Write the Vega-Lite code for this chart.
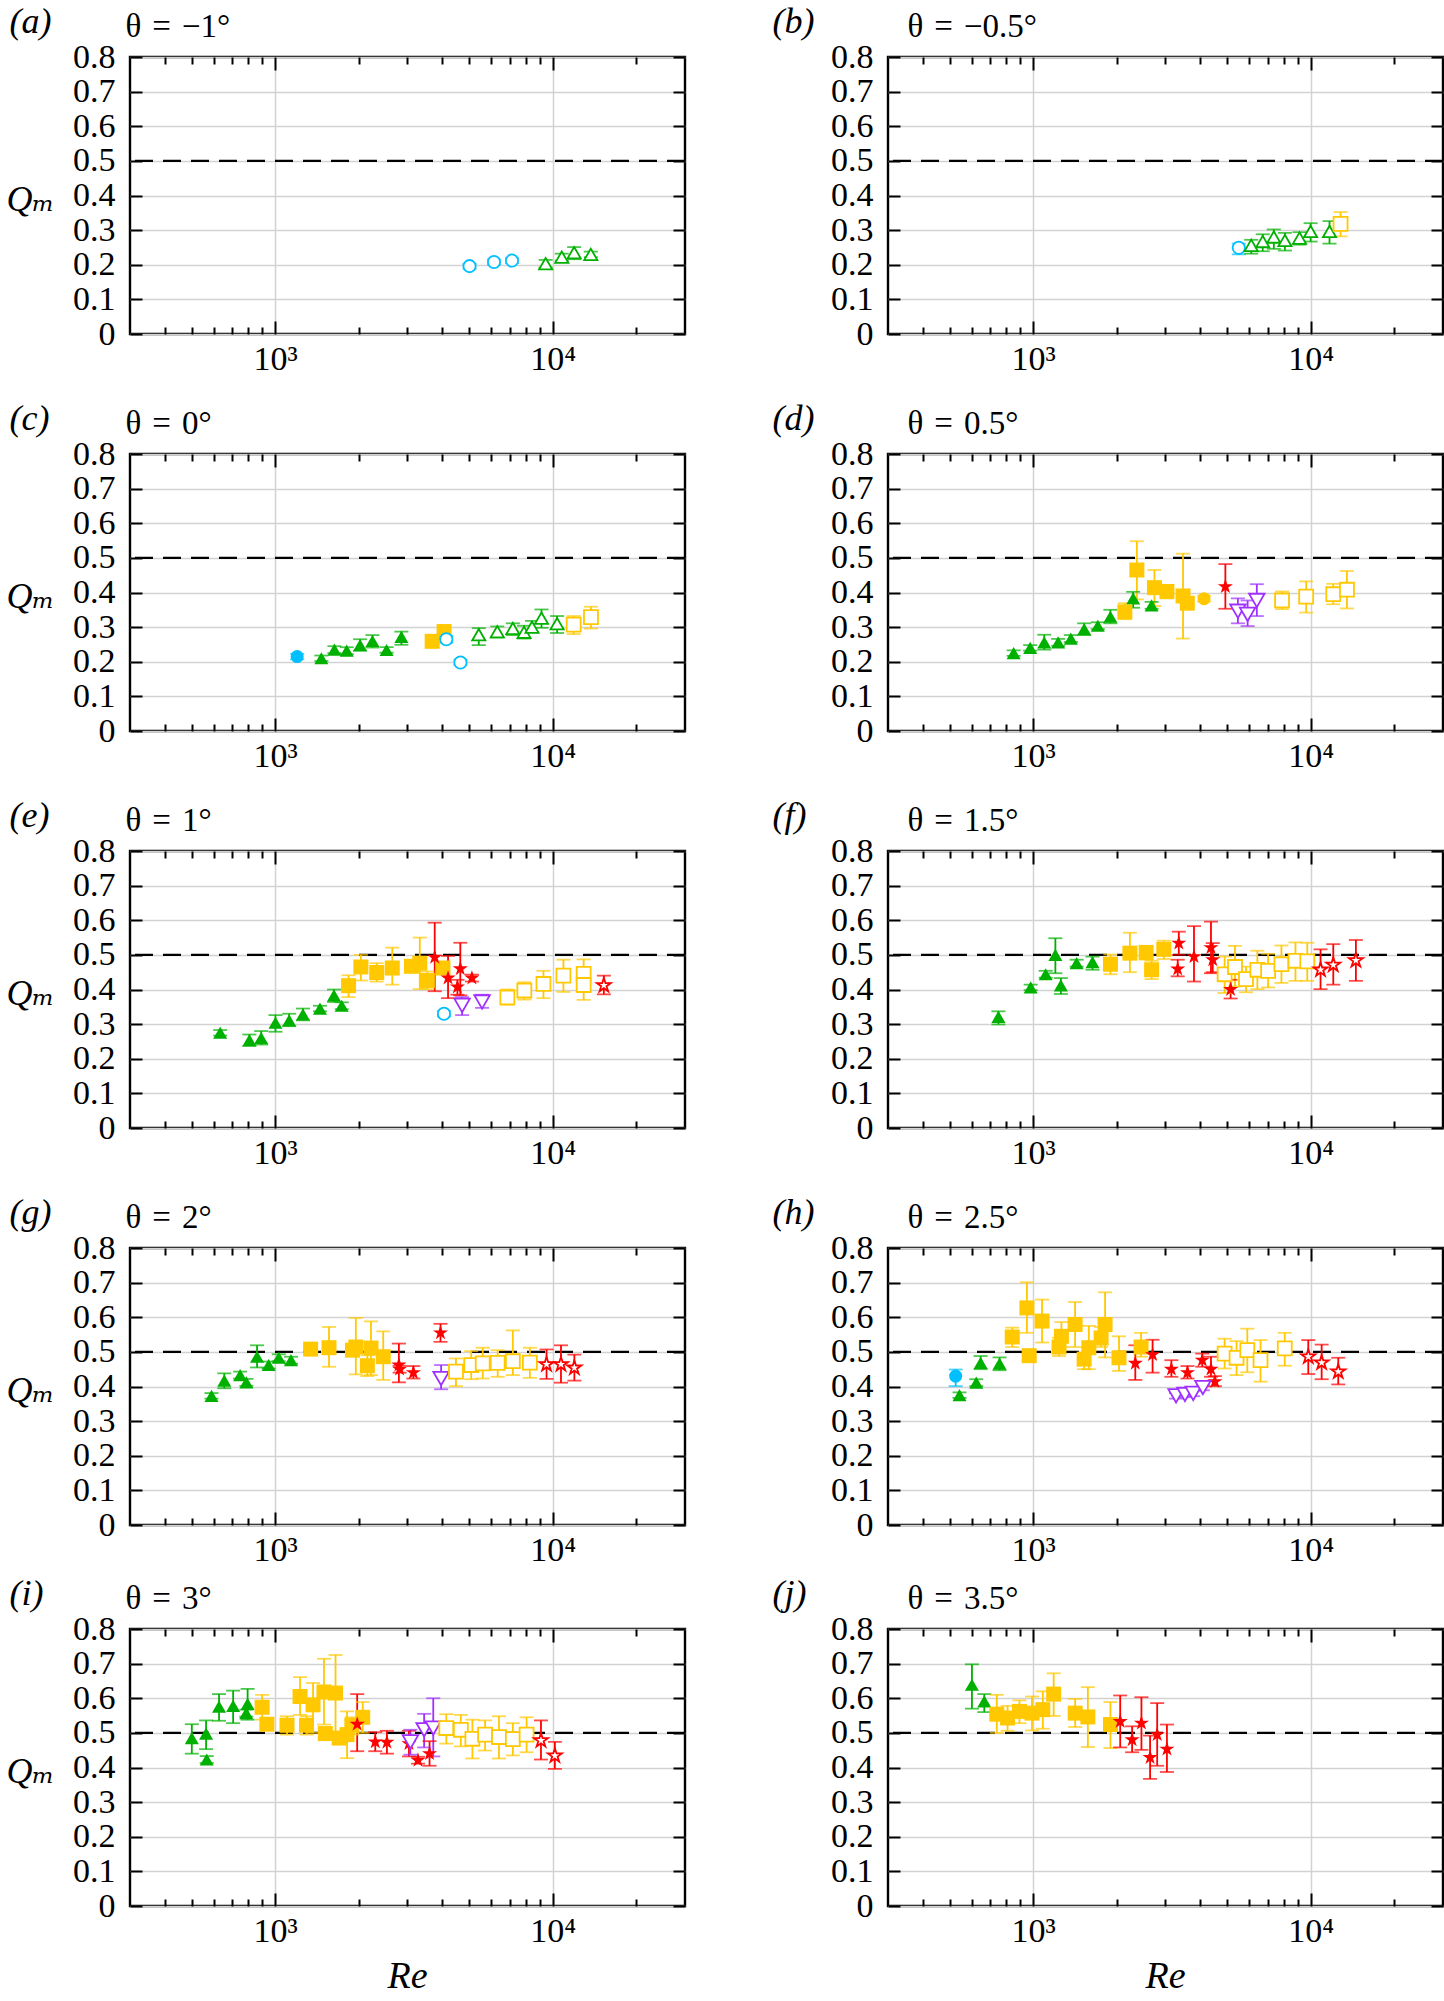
{
"$schema":"https://vega.github.io/schema/vega-lite/v6.json",
"padding":{"left":4,"top":1,"right":0,"bottom":4},
"config":{"view":{"stroke":"black","strokeWidth":2.4},"font":"Liberation Serif, DejaVu Serif, Times New Roman, serif",
"axis":{"labelFont":"Liberation Serif, DejaVu Serif, Times New Roman, serif","labelFontSize":34,"labelColor":"black","titleFont":"Liberation Serif, DejaVu Serif, Times New Roman, serif","titleFontWeight":"normal","titleColor":"black","tickColor":"black","tickWidth":2,"gridColor":"#d2d2d2","gridWidth":1.5,"labelOverlap":false,"labelFlush":false}},
"datasets":{"pts":[
{"p":"a","c":"C","m":"ci","f":0,"re":5020,"q":0.196,"lo":0.189,"hi":0.203},
{"p":"a","c":"C","m":"ci","f":0,"re":6150,"q":0.208,"lo":0.201,"hi":0.215},
{"p":"a","c":"C","m":"ci","f":0,"re":7140,"q":0.212,"lo":0.205,"hi":0.219},
{"p":"a","c":"G","m":"tu","f":0,"re":9440,"q":0.203,"lo":0.192,"hi":0.214},
{"p":"a","c":"G","m":"tu","f":0,"re":10790,"q":0.222,"lo":0.212,"hi":0.232},
{"p":"a","c":"G","m":"tu","f":0,"re":11960,"q":0.235,"lo":0.216,"hi":0.251},
{"p":"a","c":"G","m":"tu","f":0,"re":13730,"q":0.23,"lo":0.222,"hi":0.238},
{"p":"b","c":"C","m":"ci","f":0,"re":5510,"q":0.249,"lo":0.23,"hi":0.261},
{"p":"b","c":"G","m":"tu","f":0,"re":6110,"q":0.256,"lo":0.232,"hi":0.272},
{"p":"b","c":"G","m":"tu","f":0,"re":6720,"q":0.267,"lo":0.239,"hi":0.288},
{"p":"b","c":"G","m":"tu","f":0,"re":7370,"q":0.28,"lo":0.246,"hi":0.302},
{"p":"b","c":"G","m":"tu","f":0,"re":8080,"q":0.27,"lo":0.241,"hi":0.292},
{"p":"b","c":"G","m":"tu","f":0,"re":9120,"q":0.277,"lo":0.258,"hi":0.294},
{"p":"b","c":"G","m":"tu","f":0,"re":10000,"q":0.296,"lo":0.267,"hi":0.32},
{"p":"b","c":"G","m":"tu","f":0,"re":11700,"q":0.296,"lo":0.261,"hi":0.326},
{"p":"b","c":"O","m":"sq","f":0,"re":12820,"q":0.318,"lo":0.282,"hi":0.352},
{"p":"c","c":"C","m":"ci","f":1,"re":1201,"q":0.215,"lo":0.207,"hi":0.223},
{"p":"c","c":"G","m":"tu","f":1,"re":1468,"q":0.21,"lo":0.202,"hi":0.218},
{"p":"c","c":"G","m":"tu","f":1,"re":1636,"q":0.235,"lo":0.225,"hi":0.245},
{"p":"c","c":"G","m":"tu","f":1,"re":1812,"q":0.232,"lo":0.222,"hi":0.242},
{"p":"c","c":"G","m":"tu","f":1,"re":2024,"q":0.248,"lo":0.232,"hi":0.265},
{"p":"c","c":"G","m":"tu","f":1,"re":2243,"q":0.26,"lo":0.241,"hi":0.277},
{"p":"c","c":"G","m":"tu","f":1,"re":2522,"q":0.234,"lo":0.226,"hi":0.242},
{"p":"c","c":"G","m":"tu","f":1,"re":2852,"q":0.272,"lo":0.249,"hi":0.287},
{"p":"c","c":"O","m":"sq","f":1,"re":3681,"q":0.259,"lo":0.251,"hi":0.267},
{"p":"c","c":"O","m":"sq","f":1,"re":4064,"q":0.287,"lo":0.273,"hi":0.306},
{"p":"c","c":"C","m":"ci","f":0,"re":4140,"q":0.265,"lo":0.255,"hi":0.275},
{"p":"c","c":"C","m":"ci","f":0,"re":4655,"q":0.198,"lo":0.19,"hi":0.206},
{"p":"c","c":"G","m":"tu","f":0,"re":5420,"q":0.278,"lo":0.248,"hi":0.297},
{"p":"c","c":"G","m":"tu","f":0,"re":6320,"q":0.287,"lo":0.27,"hi":0.302},
{"p":"c","c":"G","m":"tu","f":0,"re":7190,"q":0.296,"lo":0.277,"hi":0.311},
{"p":"c","c":"G","m":"tu","f":0,"re":7890,"q":0.285,"lo":0.267,"hi":0.304},
{"p":"c","c":"G","m":"tu","f":0,"re":8430,"q":0.3,"lo":0.285,"hi":0.318},
{"p":"c","c":"G","m":"tu","f":0,"re":9120,"q":0.326,"lo":0.298,"hi":0.351},
{"p":"c","c":"G","m":"tu","f":0,"re":10380,"q":0.31,"lo":0.283,"hi":0.332},
{"p":"c","c":"O","m":"sq","f":0,"re":11910,"q":0.307,"lo":0.28,"hi":0.332},
{"p":"c","c":"O","m":"sq","f":0,"re":13750,"q":0.329,"lo":0.296,"hi":0.359},
{"p":"d","c":"G","m":"tu","f":1,"re":851,"q":0.225,"lo":0.217,"hi":0.233},
{"p":"d","c":"G","m":"tu","f":1,"re":976,"q":0.24,"lo":0.232,"hi":0.248},
{"p":"d","c":"G","m":"tu","f":1,"re":1097,"q":0.256,"lo":0.235,"hi":0.278},
{"p":"d","c":"G","m":"tu","f":1,"re":1231,"q":0.256,"lo":0.246,"hi":0.266},
{"p":"d","c":"G","m":"tu","f":1,"re":1368,"q":0.267,"lo":0.257,"hi":0.277},
{"p":"d","c":"G","m":"tu","f":1,"re":1528,"q":0.294,"lo":0.277,"hi":0.311},
{"p":"d","c":"G","m":"tu","f":1,"re":1711,"q":0.304,"lo":0.294,"hi":0.314},
{"p":"d","c":"G","m":"tu","f":1,"re":1899,"q":0.33,"lo":0.311,"hi":0.35},
{"p":"d","c":"G","m":"tu","f":1,"re":2294,"q":0.383,"lo":0.356,"hi":0.402},
{"p":"d","c":"G","m":"tu","f":1,"re":2673,"q":0.363,"lo":0.353,"hi":0.373},
{"p":"d","c":"O","m":"sq","f":1,"re":2141,"q":0.344,"lo":0.323,"hi":0.369},
{"p":"d","c":"O","m":"sq","f":1,"re":2366,"q":0.465,"lo":0.38,"hi":0.548},
{"p":"d","c":"O","m":"sq","f":1,"re":2737,"q":0.414,"lo":0.361,"hi":0.465},
{"p":"d","c":"O","m":"sq","f":1,"re":3036,"q":0.403,"lo":0.383,"hi":0.422},
{"p":"d","c":"O","m":"sq","f":1,"re":3470,"q":0.39,"lo":0.267,"hi":0.512},
{"p":"d","c":"O","m":"sq","f":1,"re":3594,"q":0.369,"lo":0.359,"hi":0.379},
{"p":"d","c":"O","m":"ci","f":1,"re":4130,"q":0.382,"lo":0.374,"hi":0.39},
{"p":"d","c":"R","m":"st","f":1,"re":4930,"q":0.417,"lo":0.353,"hi":0.482},
{"p":"d","c":"P","m":"td","f":0,"re":5470,"q":0.346,"lo":0.311,"hi":0.383},
{"p":"d","c":"P","m":"td","f":0,"re":5930,"q":0.337,"lo":0.303,"hi":0.377},
{"p":"d","c":"P","m":"td","f":0,"re":6400,"q":0.377,"lo":0.332,"hi":0.424},
{"p":"d","c":"O","m":"sq","f":0,"re":7890,"q":0.377,"lo":0.352,"hi":0.403},
{"p":"d","c":"O","m":"sq","f":0,"re":9640,"q":0.388,"lo":0.342,"hi":0.432},
{"p":"d","c":"O","m":"sq","f":0,"re":12070,"q":0.395,"lo":0.366,"hi":0.425},
{"p":"d","c":"O","m":"sq","f":0,"re":13520,"q":0.408,"lo":0.354,"hi":0.462},
{"p":"e","c":"G","m":"tu","f":1,"re":634,"q":0.275,"lo":0.267,"hi":0.283},
{"p":"e","c":"G","m":"tu","f":1,"re":808,"q":0.254,"lo":0.237,"hi":0.27},
{"p":"e","c":"G","m":"tu","f":1,"re":891,"q":0.26,"lo":0.241,"hi":0.28},
{"p":"e","c":"G","m":"tu","f":1,"re":1003,"q":0.304,"lo":0.278,"hi":0.326},
{"p":"e","c":"G","m":"tu","f":1,"re":1124,"q":0.311,"lo":0.294,"hi":0.33},
{"p":"e","c":"G","m":"tu","f":1,"re":1260,"q":0.328,"lo":0.311,"hi":0.345},
{"p":"e","c":"G","m":"tu","f":1,"re":1451,"q":0.345,"lo":0.337,"hi":0.353},
{"p":"e","c":"G","m":"tu","f":1,"re":1630,"q":0.383,"lo":0.364,"hi":0.4},
{"p":"e","c":"G","m":"tu","f":1,"re":1738,"q":0.353,"lo":0.343,"hi":0.363},
{"p":"e","c":"O","m":"sq","f":1,"re":1840,"q":0.411,"lo":0.378,"hi":0.441},
{"p":"e","c":"O","m":"sq","f":1,"re":2038,"q":0.465,"lo":0.426,"hi":0.5},
{"p":"e","c":"O","m":"sq","f":1,"re":2324,"q":0.449,"lo":0.423,"hi":0.476},
{"p":"e","c":"O","m":"sq","f":1,"re":2644,"q":0.462,"lo":0.414,"hi":0.521},
{"p":"e","c":"O","m":"sq","f":1,"re":3100,"q":0.467,"lo":0.455,"hi":0.478},
{"p":"e","c":"O","m":"sq","f":1,"re":3322,"q":0.476,"lo":0.401,"hi":0.55},
{"p":"e","c":"O","m":"sq","f":1,"re":3537,"q":0.426,"lo":0.401,"hi":0.452},
{"p":"e","c":"O","m":"sq","f":1,"re":4027,"q":0.462,"lo":0.452,"hi":0.472},
{"p":"e","c":"R","m":"st","f":1,"re":3760,"q":0.493,"lo":0.395,"hi":0.593},
{"p":"e","c":"R","m":"st","f":1,"re":4200,"q":0.433,"lo":0.375,"hi":0.497},
{"p":"e","c":"R","m":"st","f":1,"re":4540,"q":0.407,"lo":0.385,"hi":0.428},
{"p":"e","c":"R","m":"st","f":1,"re":4650,"q":0.46,"lo":0.383,"hi":0.535},
{"p":"e","c":"R","m":"st","f":1,"re":5120,"q":0.433,"lo":0.423,"hi":0.443},
{"p":"e","c":"C","m":"ci","f":0,"re":4060,"q":0.33,"lo":0.322,"hi":0.338},
{"p":"e","c":"P","m":"td","f":0,"re":4720,"q":0.354,"lo":0.326,"hi":0.378},
{"p":"e","c":"P","m":"td","f":0,"re":5570,"q":0.364,"lo":0.347,"hi":0.385},
{"p":"e","c":"O","m":"sq","f":0,"re":6870,"q":0.377,"lo":0.356,"hi":0.4},
{"p":"e","c":"O","m":"sq","f":0,"re":7910,"q":0.397,"lo":0.371,"hi":0.421},
{"p":"e","c":"O","m":"sq","f":0,"re":9270,"q":0.416,"lo":0.375,"hi":0.454},
{"p":"e","c":"O","m":"sq","f":0,"re":10940,"q":0.44,"lo":0.393,"hi":0.486},
{"p":"e","c":"O","m":"sq","f":0,"re":12940,"q":0.445,"lo":0.41,"hi":0.487},
{"p":"e","c":"O","m":"sq","f":0,"re":12940,"q":0.413,"lo":0.37,"hi":0.45},
{"p":"e","c":"R","m":"st","f":0,"re":15300,"q":0.412,"lo":0.386,"hi":0.44},
{"p":"f","c":"G","m":"tu","f":1,"re":750,"q":0.321,"lo":0.299,"hi":0.337},
{"p":"f","c":"G","m":"tu","f":1,"re":980,"q":0.406,"lo":0.398,"hi":0.414},
{"p":"f","c":"G","m":"tu","f":1,"re":1110,"q":0.444,"lo":0.434,"hi":0.454},
{"p":"f","c":"G","m":"tu","f":1,"re":1203,"q":0.5,"lo":0.447,"hi":0.548},
{"p":"f","c":"G","m":"tu","f":1,"re":1259,"q":0.412,"lo":0.387,"hi":0.433},
{"p":"f","c":"G","m":"tu","f":1,"re":1435,"q":0.476,"lo":0.466,"hi":0.486},
{"p":"f","c":"G","m":"tu","f":1,"re":1637,"q":0.479,"lo":0.457,"hi":0.495},
{"p":"f","c":"O","m":"sq","f":1,"re":1900,"q":0.473,"lo":0.444,"hi":0.501},
{"p":"f","c":"O","m":"sq","f":1,"re":2233,"q":0.505,"lo":0.45,"hi":0.564},
{"p":"f","c":"O","m":"sq","f":1,"re":2555,"q":0.507,"lo":0.486,"hi":0.524},
{"p":"f","c":"O","m":"sq","f":1,"re":2673,"q":0.457,"lo":0.43,"hi":0.483},
{"p":"f","c":"O","m":"sq","f":1,"re":2958,"q":0.516,"lo":0.488,"hi":0.541},
{"p":"f","c":"R","m":"st","f":1,"re":3350,"q":0.534,"lo":0.5,"hi":0.567},
{"p":"f","c":"R","m":"st","f":1,"re":3320,"q":0.459,"lo":0.438,"hi":0.486},
{"p":"f","c":"R","m":"st","f":1,"re":3800,"q":0.495,"lo":0.423,"hi":0.583},
{"p":"f","c":"R","m":"st","f":1,"re":4375,"q":0.521,"lo":0.447,"hi":0.596},
{"p":"f","c":"R","m":"st","f":1,"re":4440,"q":0.486,"lo":0.45,"hi":0.534},
{"p":"f","c":"R","m":"st","f":1,"re":5150,"q":0.4,"lo":0.374,"hi":0.428},
{"p":"f","c":"O","m":"sq","f":0,"re":4900,"q":0.444,"lo":0.39,"hi":0.495},
{"p":"f","c":"O","m":"sq","f":0,"re":5340,"q":0.465,"lo":0.409,"hi":0.526},
{"p":"f","c":"O","m":"sq","f":0,"re":5850,"q":0.43,"lo":0.392,"hi":0.466},
{"p":"f","c":"O","m":"sq","f":0,"re":6430,"q":0.457,"lo":0.401,"hi":0.512},
{"p":"f","c":"O","m":"sq","f":0,"re":7030,"q":0.454,"lo":0.406,"hi":0.503},
{"p":"f","c":"O","m":"sq","f":0,"re":7850,"q":0.473,"lo":0.419,"hi":0.527},
{"p":"f","c":"O","m":"sq","f":0,"re":8820,"q":0.483,"lo":0.425,"hi":0.536},
{"p":"f","c":"O","m":"sq","f":0,"re":9730,"q":0.481,"lo":0.425,"hi":0.535},
{"p":"f","c":"R","m":"st","f":0,"re":10860,"q":0.457,"lo":0.401,"hi":0.516},
{"p":"f","c":"R","m":"st","f":0,"re":12070,"q":0.471,"lo":0.414,"hi":0.531},
{"p":"f","c":"R","m":"st","f":0,"re":14560,"q":0.484,"lo":0.425,"hi":0.543},
{"p":"g","c":"G","m":"tu","f":1,"re":590,"q":0.373,"lo":0.365,"hi":0.381},
{"p":"g","c":"G","m":"tu","f":1,"re":656,"q":0.417,"lo":0.395,"hi":0.438},
{"p":"g","c":"G","m":"tu","f":1,"re":748,"q":0.433,"lo":0.423,"hi":0.443},
{"p":"g","c":"G","m":"tu","f":1,"re":788,"q":0.412,"lo":0.402,"hi":0.422},
{"p":"g","c":"G","m":"tu","f":1,"re":861,"q":0.486,"lo":0.455,"hi":0.519},
{"p":"g","c":"G","m":"tu","f":1,"re":948,"q":0.462,"lo":0.452,"hi":0.472},
{"p":"g","c":"G","m":"tu","f":1,"re":1031,"q":0.483,"lo":0.473,"hi":0.493},
{"p":"g","c":"G","m":"tu","f":1,"re":1141,"q":0.476,"lo":0.466,"hi":0.486},
{"p":"g","c":"O","m":"sq","f":1,"re":1343,"q":0.508,"lo":0.5,"hi":0.516},
{"p":"g","c":"O","m":"sq","f":1,"re":1564,"q":0.512,"lo":0.457,"hi":0.572},
{"p":"g","c":"O","m":"sq","f":1,"re":1954,"q":0.514,"lo":0.435,"hi":0.598},
{"p":"g","c":"O","m":"sq","f":1,"re":1900,"q":0.505,"lo":0.495,"hi":0.515},
{"p":"g","c":"O","m":"sq","f":1,"re":2150,"q":0.46,"lo":0.43,"hi":0.49},
{"p":"g","c":"O","m":"sq","f":1,"re":2216,"q":0.511,"lo":0.433,"hi":0.588},
{"p":"g","c":"O","m":"sq","f":1,"re":2453,"q":0.486,"lo":0.419,"hi":0.559},
{"p":"g","c":"R","m":"st","f":1,"re":2793,"q":0.462,"lo":0.412,"hi":0.524},
{"p":"g","c":"R","m":"st","f":1,"re":2810,"q":0.45,"lo":0.44,"hi":0.46},
{"p":"g","c":"R","m":"st","f":1,"re":3150,"q":0.44,"lo":0.423,"hi":0.459},
{"p":"g","c":"R","m":"st","f":1,"re":3945,"q":0.555,"lo":0.529,"hi":0.581},
{"p":"g","c":"P","m":"td","f":0,"re":3965,"q":0.423,"lo":0.392,"hi":0.462},
{"p":"g","c":"O","m":"sq","f":0,"re":4485,"q":0.443,"lo":0.401,"hi":0.481},
{"p":"g","c":"O","m":"sq","f":0,"re":5090,"q":0.462,"lo":0.421,"hi":0.502},
{"p":"g","c":"O","m":"sq","f":0,"re":5600,"q":0.467,"lo":0.423,"hi":0.512},
{"p":"g","c":"O","m":"sq","f":0,"re":6340,"q":0.468,"lo":0.428,"hi":0.505},
{"p":"g","c":"O","m":"sq","f":0,"re":7190,"q":0.473,"lo":0.433,"hi":0.562},
{"p":"g","c":"O","m":"sq","f":0,"re":8280,"q":0.469,"lo":0.425,"hi":0.512},
{"p":"g","c":"R","m":"st","f":0,"re":9510,"q":0.464,"lo":0.422,"hi":0.507},
{"p":"g","c":"R","m":"st","f":0,"re":10720,"q":0.464,"lo":0.411,"hi":0.519},
{"p":"g","c":"R","m":"st","f":0,"re":11980,"q":0.454,"lo":0.417,"hi":0.492},
{"p":"h","c":"C","m":"ci","f":1,"re":526,"q":0.43,"lo":0.401,"hi":0.449},
{"p":"h","c":"G","m":"tu","f":1,"re":543,"q":0.375,"lo":0.367,"hi":0.383},
{"p":"h","c":"G","m":"tu","f":1,"re":624,"q":0.411,"lo":0.401,"hi":0.421},
{"p":"h","c":"G","m":"tu","f":1,"re":647,"q":0.468,"lo":0.45,"hi":0.488},
{"p":"h","c":"G","m":"tu","f":1,"re":757,"q":0.466,"lo":0.447,"hi":0.484},
{"p":"h","c":"O","m":"sq","f":1,"re":841,"q":0.543,"lo":0.514,"hi":0.57},
{"p":"h","c":"O","m":"sq","f":1,"re":950,"q":0.627,"lo":0.555,"hi":0.701},
{"p":"h","c":"O","m":"sq","f":1,"re":968,"q":0.489,"lo":0.481,"hi":0.497},
{"p":"h","c":"O","m":"sq","f":1,"re":1077,"q":0.589,"lo":0.527,"hi":0.651},
{"p":"h","c":"O","m":"sq","f":1,"re":1240,"q":0.514,"lo":0.488,"hi":0.541},
{"p":"h","c":"O","m":"sq","f":1,"re":1265,"q":0.545,"lo":0.514,"hi":0.586},
{"p":"h","c":"O","m":"sq","f":1,"re":1417,"q":0.579,"lo":0.514,"hi":0.644},
{"p":"h","c":"O","m":"sq","f":1,"re":1527,"q":0.479,"lo":0.45,"hi":0.497},
{"p":"h","c":"O","m":"sq","f":1,"re":1588,"q":0.512,"lo":0.45,"hi":0.575},
{"p":"h","c":"O","m":"sq","f":1,"re":1758,"q":0.54,"lo":0.514,"hi":0.572},
{"p":"h","c":"O","m":"sq","f":1,"re":1817,"q":0.579,"lo":0.484,"hi":0.672},
{"p":"h","c":"O","m":"sq","f":1,"re":2040,"q":0.483,"lo":0.445,"hi":0.545},
{"p":"h","c":"O","m":"sq","f":1,"re":2449,"q":0.514,"lo":0.486,"hi":0.555},
{"p":"h","c":"R","m":"st","f":1,"re":2335,"q":0.467,"lo":0.419,"hi":0.519},
{"p":"h","c":"R","m":"st","f":1,"re":2695,"q":0.492,"lo":0.44,"hi":0.535},
{"p":"h","c":"R","m":"st","f":1,"re":3150,"q":0.45,"lo":0.428,"hi":0.476},
{"p":"h","c":"R","m":"st","f":1,"re":3600,"q":0.44,"lo":0.423,"hi":0.459},
{"p":"h","c":"R","m":"st","f":1,"re":4070,"q":0.476,"lo":0.457,"hi":0.495},
{"p":"h","c":"R","m":"st","f":1,"re":4375,"q":0.45,"lo":0.428,"hi":0.486},
{"p":"h","c":"R","m":"st","f":1,"re":4520,"q":0.414,"lo":0.401,"hi":0.43},
{"p":"h","c":"P","m":"td","f":0,"re":3275,"q":0.373,"lo":0.365,"hi":0.381},
{"p":"h","c":"P","m":"td","f":0,"re":3525,"q":0.377,"lo":0.369,"hi":0.385},
{"p":"h","c":"P","m":"td","f":0,"re":3775,"q":0.38,"lo":0.372,"hi":0.388},
{"p":"h","c":"P","m":"td","f":0,"re":4090,"q":0.397,"lo":0.389,"hi":0.405},
{"p":"h","c":"O","m":"sq","f":0,"re":4900,"q":0.495,"lo":0.452,"hi":0.538},
{"p":"h","c":"O","m":"sq","f":0,"re":5410,"q":0.483,"lo":0.433,"hi":0.531},
{"p":"h","c":"O","m":"sq","f":0,"re":5915,"q":0.505,"lo":0.441,"hi":0.567},
{"p":"h","c":"O","m":"sq","f":0,"re":6600,"q":0.476,"lo":0.414,"hi":0.534},
{"p":"h","c":"O","m":"sq","f":0,"re":8070,"q":0.51,"lo":0.46,"hi":0.555},
{"p":"h","c":"R","m":"st","f":0,"re":9810,"q":0.486,"lo":0.436,"hi":0.534},
{"p":"h","c":"R","m":"st","f":0,"re":10960,"q":0.469,"lo":0.421,"hi":0.521},
{"p":"h","c":"R","m":"st","f":0,"re":12580,"q":0.443,"lo":0.406,"hi":0.483},
{"p":"i","c":"G","m":"tu","f":1,"re":501,"q":0.485,"lo":0.44,"hi":0.525},
{"p":"i","c":"G","m":"tu","f":1,"re":564,"q":0.498,"lo":0.453,"hi":0.536},
{"p":"i","c":"G","m":"tu","f":1,"re":567,"q":0.423,"lo":0.413,"hi":0.433},
{"p":"i","c":"G","m":"tu","f":1,"re":628,"q":0.576,"lo":0.535,"hi":0.612},
{"p":"i","c":"G","m":"tu","f":1,"re":706,"q":0.578,"lo":0.528,"hi":0.622},
{"p":"i","c":"G","m":"tu","f":1,"re":796,"q":0.584,"lo":0.538,"hi":0.627},
{"p":"i","c":"G","m":"tu","f":1,"re":787,"q":0.557,"lo":0.547,"hi":0.567},
{"p":"i","c":"O","m":"sq","f":1,"re":898,"q":0.574,"lo":0.538,"hi":0.61},
{"p":"i","c":"O","m":"sq","f":1,"re":934,"q":0.525,"lo":0.515,"hi":0.535},
{"p":"i","c":"O","m":"sq","f":1,"re":1104,"q":0.522,"lo":0.495,"hi":0.548},
{"p":"i","c":"O","m":"sq","f":1,"re":1230,"q":0.605,"lo":0.552,"hi":0.661},
{"p":"i","c":"O","m":"sq","f":1,"re":1298,"q":0.522,"lo":0.495,"hi":0.548},
{"p":"i","c":"O","m":"sq","f":1,"re":1370,"q":0.581,"lo":0.5,"hi":0.644},
{"p":"i","c":"O","m":"sq","f":1,"re":1500,"q":0.618,"lo":0.524,"hi":0.714},
{"p":"i","c":"O","m":"sq","f":1,"re":1651,"q":0.615,"lo":0.495,"hi":0.725},
{"p":"i","c":"O","m":"sq","f":1,"re":1517,"q":0.498,"lo":0.488,"hi":0.508},
{"p":"i","c":"O","m":"sq","f":1,"re":1702,"q":0.485,"lo":0.471,"hi":0.498},
{"p":"i","c":"O","m":"sq","f":1,"re":1817,"q":0.495,"lo":0.427,"hi":0.562},
{"p":"i","c":"O","m":"sq","f":1,"re":1890,"q":0.522,"lo":0.495,"hi":0.545},
{"p":"i","c":"O","m":"sq","f":1,"re":2069,"q":0.545,"lo":0.5,"hi":0.589},
{"p":"i","c":"R","m":"st","f":1,"re":1976,"q":0.525,"lo":0.447,"hi":0.612},
{"p":"i","c":"R","m":"st","f":1,"re":2296,"q":0.474,"lo":0.447,"hi":0.502},
{"p":"i","c":"R","m":"st","f":1,"re":2529,"q":0.473,"lo":0.44,"hi":0.506},
{"p":"i","c":"R","m":"st","f":1,"re":3036,"q":0.469,"lo":0.432,"hi":0.506},
{"p":"i","c":"R","m":"st","f":1,"re":3272,"q":0.421,"lo":0.411,"hi":0.431},
{"p":"i","c":"R","m":"st","f":1,"re":3602,"q":0.44,"lo":0.405,"hi":0.476},
{"p":"i","c":"P","m":"td","f":0,"re":3074,"q":0.474,"lo":0.437,"hi":0.509},
{"p":"i","c":"P","m":"td","f":0,"re":3444,"q":0.509,"lo":0.458,"hi":0.555},
{"p":"i","c":"P","m":"td","f":0,"re":3715,"q":0.514,"lo":0.432,"hi":0.6},
{"p":"i","c":"O","m":"sq","f":0,"re":4140,"q":0.514,"lo":0.469,"hi":0.554},
{"p":"i","c":"O","m":"sq","f":0,"re":4670,"q":0.509,"lo":0.461,"hi":0.552},
{"p":"i","c":"O","m":"sq","f":0,"re":5140,"q":0.483,"lo":0.426,"hi":0.538},
{"p":"i","c":"O","m":"sq","f":0,"re":5710,"q":0.495,"lo":0.449,"hi":0.536},
{"p":"i","c":"O","m":"sq","f":0,"re":6410,"q":0.488,"lo":0.426,"hi":0.548},
{"p":"i","c":"O","m":"sq","f":0,"re":7190,"q":0.482,"lo":0.435,"hi":0.528},
{"p":"i","c":"O","m":"sq","f":0,"re":8060,"q":0.495,"lo":0.444,"hi":0.545},
{"p":"i","c":"R","m":"st","f":0,"re":9080,"q":0.478,"lo":0.423,"hi":0.536},
{"p":"i","c":"R","m":"st","f":0,"re":10190,"q":0.434,"lo":0.396,"hi":0.474},
{"p":"j","c":"G","m":"tu","f":1,"re":602,"q":0.639,"lo":0.57,"hi":0.698},
{"p":"j","c":"G","m":"tu","f":1,"re":667,"q":0.591,"lo":0.56,"hi":0.612},
{"p":"j","c":"O","m":"sq","f":1,"re":740,"q":0.554,"lo":0.5,"hi":0.61},
{"p":"j","c":"O","m":"sq","f":1,"re":809,"q":0.543,"lo":0.506,"hi":0.578},
{"p":"j","c":"O","m":"sq","f":1,"re":893,"q":0.562,"lo":0.528,"hi":0.594},
{"p":"j","c":"O","m":"sq","f":1,"re":991,"q":0.557,"lo":0.507,"hi":0.605},
{"p":"j","c":"O","m":"sq","f":1,"re":1084,"q":0.567,"lo":0.512,"hi":0.62},
{"p":"j","c":"O","m":"sq","f":1,"re":1186,"q":0.612,"lo":0.549,"hi":0.672},
{"p":"j","c":"O","m":"sq","f":1,"re":1418,"q":0.557,"lo":0.517,"hi":0.598},
{"p":"j","c":"O","m":"sq","f":1,"re":1575,"q":0.546,"lo":0.459,"hi":0.632},
{"p":"j","c":"O","m":"sq","f":1,"re":1900,"q":0.524,"lo":0.456,"hi":0.589},
{"p":"j","c":"R","m":"st","f":1,"re":2060,"q":0.533,"lo":0.458,"hi":0.608},
{"p":"j","c":"R","m":"st","f":1,"re":2274,"q":0.48,"lo":0.444,"hi":0.519},
{"p":"j","c":"R","m":"st","f":1,"re":2457,"q":0.528,"lo":0.451,"hi":0.603},
{"p":"j","c":"R","m":"st","f":1,"re":2640,"q":0.429,"lo":0.367,"hi":0.492},
{"p":"j","c":"R","m":"st","f":1,"re":2800,"q":0.495,"lo":0.405,"hi":0.586},
{"p":"j","c":"R","m":"st","f":1,"re":3036,"q":0.453,"lo":0.387,"hi":0.524}
]},
"spacing":-2,
"vconcat":[
{"spacing":14,"vconcat":[
{"spacing":82,"hconcat":[
{"width":555,"height":277,"resolve":{"axis":{"x":"independent","y":"independent"},"scale":{"size":"independent"}},"layer":[
{"data":{"values":[{"q":0.5}]},"mark":{"type":"rule","color":"black","strokeWidth":2.2,"strokeDash":[18,10]},"encoding":{"y":{"field":"q","type":"quantitative","scale":{"domain":[0,0.8],"nice":false},"axis":null}}},
{"data":{"name":"pts"},"transform":[{"filter":"datum.p=='a'"}],"mark":{"type":"rule","strokeWidth":1.8},"encoding":{
"x":{"field":"re","type":"quantitative","scale":{"type":"log","domain":[300,30000],"nice":false},"axis":{"orient":"bottom","values":[400,500,600,700,800,900,1000,2000,3000,4000,5000,6000,7000,8000,9000,10000,20000],"labelExpr":"datum.value==1000?'10³':datum.value==10000?'10⁴':''","tickSize":{"condition":{"test":"datum.value==1000||datum.value==10000","value":-13},"value":-7},"labelPadding":21,"labelBaseline":"top","grid":true,"gridOpacity":{"condition":{"test":"datum.value==1000||datum.value==10000","value":1},"value":0},"domain":false,"title":null}},
"y":{"field":"lo","type":"quantitative","scale":{"domain":[0,0.8],"nice":false},"axis":{"orient":"left","values":[0,0.1,0.2,0.3,0.4,0.5,0.6,0.7,0.8],"labelExpr":"datum.value==0?'0':format(datum.value,'.1f')","tickSize":-12,"labelPadding":27,"grid":true,"domain":false,"title":"Qₘ","titleFontStyle":"italic","titleFontSize":36,"titleAngle":0,"titleX":-76,"titleY":142,"titleAlign":"right","titleBaseline":"middle"}},
"y2":{"field":"hi"},
"color":{"field":"c","type":"nominal","scale":{"domain":["C","G","O","R","P"],"range":["#00bfff","#00b000","#ffc800","#ff0000","#a030ff"]},"legend":null}}},
{"data":{"name":"pts"},"transform":[{"filter":"datum.p=='a'"}],"mark":{"type":"tick","orient":"horizontal","size":14,"thickness":1.8},"encoding":{
"x":{"field":"re","type":"quantitative","scale":{"type":"log","domain":[300,30000],"nice":false},"axis":{"orient":"top","values":[400,500,600,700,800,900,1000,2000,3000,4000,5000,6000,7000,8000,9000,10000,20000],"labels":false,"tickSize":{"condition":{"test":"datum.value==1000||datum.value==10000","value":-13},"value":-7},"grid":false,"domain":false,"title":"θ\u2004=\u2004−1°","titleFontSize":33,"titleX":-5,"titleY":-21,"titleAlign":"left","titleBaseline":"alphabetic","titleAngle":0}},
"y":{"field":"lo","type":"quantitative","scale":{"domain":[0,0.8],"nice":false},"axis":{"orient":"right","values":[0,0.1,0.2,0.3,0.4,0.5,0.6,0.7,0.8],"labels":false,"tickSize":-12,"grid":false,"domain":false,"title":"(a)","titleFontSize":36,"titleFontStyle":"italic","titleX":-676,"titleY":-25,"titleAlign":"left","titleBaseline":"alphabetic","titleAngle":0}},
"color":{"field":"c","type":"nominal","scale":{"domain":["C","G","O","R","P"],"range":["#00bfff","#00b000","#ffc800","#ff0000","#a030ff"]},"legend":null}}},
{"data":{"name":"pts"},"transform":[{"filter":"datum.p=='a'"}],"mark":{"type":"tick","orient":"horizontal","size":14,"thickness":1.8},"encoding":{
"x":{"field":"re","type":"quantitative","scale":{"type":"log","domain":[300,30000],"nice":false},"axis":null},
"y":{"field":"hi","type":"quantitative","scale":{"domain":[0,0.8],"nice":false},"axis":null},
"color":{"field":"c","type":"nominal","scale":{"domain":["C","G","O","R","P"],"range":["#00bfff","#00b000","#ffc800","#ff0000","#a030ff"]},"legend":null}}},
{"data":{"name":"pts"},"transform":[{"filter":"datum.p=='a' && datum.f==1"}],"mark":{"type":"point","filled":true,"opacity":1},"encoding":{
"x":{"field":"re","type":"quantitative","scale":{"type":"log","domain":[300,30000],"nice":false},"axis":null},
"y":{"field":"q","type":"quantitative","scale":{"domain":[0,0.8],"nice":false},"axis":null},
"color":{"field":"c","type":"nominal","scale":{"domain":["C","G","O","R","P"],"range":["#00bfff","#00b000","#ffc800","#ff0000","#a030ff"]},"legend":null},
"shape":{"field":"m","type":"nominal","scale":{"domain":["ci","tu","sq","st","td"],"range":["circle","triangle-up","square","M0,-1L0.2245,-0.309L0.951,-0.309L0.363,0.118L0.588,0.809L0,0.382L-0.588,0.809L-0.363,0.118L-0.951,-0.309L-0.2245,-0.309Z","triangle-down"]},"legend":null},
"size":{"field":"m","type":"ordinal","scale":{"domain":["ci","tu","sq","st","td"],"range":[170,280,150,1000,220]},"legend":null}}},
{"data":{"name":"pts"},"transform":[{"filter":"datum.p=='a' && datum.f==0"}],"mark":{"type":"point","filled":false,"fill":"white","strokeWidth":1.8,"opacity":1},"encoding":{
"x":{"field":"re","type":"quantitative","scale":{"type":"log","domain":[300,30000],"nice":false},"axis":null},
"y":{"field":"q","type":"quantitative","scale":{"domain":[0,0.8],"nice":false},"axis":null},
"color":{"field":"c","type":"nominal","scale":{"domain":["C","G","O","R","P"],"range":["#00bfff","#00b000","#ffc800","#ff0000","#a030ff"]},"legend":null},
"shape":{"field":"m","type":"nominal","scale":{"domain":["ci","tu","sq","st","td"],"range":["circle","triangle-up","square","M0,-1L0.2245,-0.309L0.951,-0.309L0.363,0.118L0.588,0.809L0,0.382L-0.588,0.809L-0.363,0.118L-0.951,-0.309L-0.2245,-0.309Z","triangle-down"]},"legend":null},
"size":{"field":"m","type":"ordinal","scale":{"domain":["ci","tu","sq","st","td"],"range":[150,240,80,850,210]},"legend":null}}}
]},
{"width":555,"height":277,"resolve":{"axis":{"x":"independent","y":"independent"},"scale":{"size":"independent"}},"layer":[
{"data":{"values":[{"q":0.5}]},"mark":{"type":"rule","color":"black","strokeWidth":2.2,"strokeDash":[18,10]},"encoding":{"y":{"field":"q","type":"quantitative","scale":{"domain":[0,0.8],"nice":false},"axis":null}}},
{"data":{"name":"pts"},"transform":[{"filter":"datum.p=='b'"}],"mark":{"type":"rule","strokeWidth":1.8},"encoding":{
"x":{"field":"re","type":"quantitative","scale":{"type":"log","domain":[300,30000],"nice":false},"axis":{"orient":"bottom","values":[400,500,600,700,800,900,1000,2000,3000,4000,5000,6000,7000,8000,9000,10000,20000],"labelExpr":"datum.value==1000?'10³':datum.value==10000?'10⁴':''","tickSize":{"condition":{"test":"datum.value==1000||datum.value==10000","value":-13},"value":-7},"labelPadding":21,"labelBaseline":"top","grid":true,"gridOpacity":{"condition":{"test":"datum.value==1000||datum.value==10000","value":1},"value":0},"domain":false,"title":null}},
"y":{"field":"lo","type":"quantitative","scale":{"domain":[0,0.8],"nice":false},"axis":{"orient":"left","values":[0,0.1,0.2,0.3,0.4,0.5,0.6,0.7,0.8],"labelExpr":"datum.value==0?'0':format(datum.value,'.1f')","tickSize":-12,"labelPadding":27,"grid":true,"domain":false,"title":null}},
"y2":{"field":"hi"},
"color":{"field":"c","type":"nominal","scale":{"domain":["C","G","O","R","P"],"range":["#00bfff","#00b000","#ffc800","#ff0000","#a030ff"]},"legend":null}}},
{"data":{"name":"pts"},"transform":[{"filter":"datum.p=='b'"}],"mark":{"type":"tick","orient":"horizontal","size":14,"thickness":1.8},"encoding":{
"x":{"field":"re","type":"quantitative","scale":{"type":"log","domain":[300,30000],"nice":false},"axis":{"orient":"top","values":[400,500,600,700,800,900,1000,2000,3000,4000,5000,6000,7000,8000,9000,10000,20000],"labels":false,"tickSize":{"condition":{"test":"datum.value==1000||datum.value==10000","value":-13},"value":-7},"grid":false,"domain":false,"title":"θ\u2004=\u2004−0.5°","titleFontSize":33,"titleX":19,"titleY":-21,"titleAlign":"left","titleBaseline":"alphabetic","titleAngle":0}},
"y":{"field":"lo","type":"quantitative","scale":{"domain":[0,0.8],"nice":false},"axis":{"orient":"right","values":[0,0.1,0.2,0.3,0.4,0.5,0.6,0.7,0.8],"labels":false,"tickSize":-12,"grid":false,"domain":false,"title":"(b)","titleFontSize":36,"titleFontStyle":"italic","titleX":-671,"titleY":-25,"titleAlign":"left","titleBaseline":"alphabetic","titleAngle":0}},
"color":{"field":"c","type":"nominal","scale":{"domain":["C","G","O","R","P"],"range":["#00bfff","#00b000","#ffc800","#ff0000","#a030ff"]},"legend":null}}},
{"data":{"name":"pts"},"transform":[{"filter":"datum.p=='b'"}],"mark":{"type":"tick","orient":"horizontal","size":14,"thickness":1.8},"encoding":{
"x":{"field":"re","type":"quantitative","scale":{"type":"log","domain":[300,30000],"nice":false},"axis":null},
"y":{"field":"hi","type":"quantitative","scale":{"domain":[0,0.8],"nice":false},"axis":null},
"color":{"field":"c","type":"nominal","scale":{"domain":["C","G","O","R","P"],"range":["#00bfff","#00b000","#ffc800","#ff0000","#a030ff"]},"legend":null}}},
{"data":{"name":"pts"},"transform":[{"filter":"datum.p=='b' && datum.f==1"}],"mark":{"type":"point","filled":true,"opacity":1},"encoding":{
"x":{"field":"re","type":"quantitative","scale":{"type":"log","domain":[300,30000],"nice":false},"axis":null},
"y":{"field":"q","type":"quantitative","scale":{"domain":[0,0.8],"nice":false},"axis":null},
"color":{"field":"c","type":"nominal","scale":{"domain":["C","G","O","R","P"],"range":["#00bfff","#00b000","#ffc800","#ff0000","#a030ff"]},"legend":null},
"shape":{"field":"m","type":"nominal","scale":{"domain":["ci","tu","sq","st","td"],"range":["circle","triangle-up","square","M0,-1L0.2245,-0.309L0.951,-0.309L0.363,0.118L0.588,0.809L0,0.382L-0.588,0.809L-0.363,0.118L-0.951,-0.309L-0.2245,-0.309Z","triangle-down"]},"legend":null},
"size":{"field":"m","type":"ordinal","scale":{"domain":["ci","tu","sq","st","td"],"range":[170,280,150,1000,220]},"legend":null}}},
{"data":{"name":"pts"},"transform":[{"filter":"datum.p=='b' && datum.f==0"}],"mark":{"type":"point","filled":false,"fill":"white","strokeWidth":1.8,"opacity":1},"encoding":{
"x":{"field":"re","type":"quantitative","scale":{"type":"log","domain":[300,30000],"nice":false},"axis":null},
"y":{"field":"q","type":"quantitative","scale":{"domain":[0,0.8],"nice":false},"axis":null},
"color":{"field":"c","type":"nominal","scale":{"domain":["C","G","O","R","P"],"range":["#00bfff","#00b000","#ffc800","#ff0000","#a030ff"]},"legend":null},
"shape":{"field":"m","type":"nominal","scale":{"domain":["ci","tu","sq","st","td"],"range":["circle","triangle-up","square","M0,-1L0.2245,-0.309L0.951,-0.309L0.363,0.118L0.588,0.809L0,0.382L-0.588,0.809L-0.363,0.118L-0.951,-0.309L-0.2245,-0.309Z","triangle-down"]},"legend":null},
"size":{"field":"m","type":"ordinal","scale":{"domain":["ci","tu","sq","st","td"],"range":[150,240,80,850,210]},"legend":null}}}
]}
]},
{"spacing":82,"hconcat":[
{"width":555,"height":277,"resolve":{"axis":{"x":"independent","y":"independent"},"scale":{"size":"independent"}},"layer":[
{"data":{"values":[{"q":0.5}]},"mark":{"type":"rule","color":"black","strokeWidth":2.2,"strokeDash":[18,10]},"encoding":{"y":{"field":"q","type":"quantitative","scale":{"domain":[0,0.8],"nice":false},"axis":null}}},
{"data":{"name":"pts"},"transform":[{"filter":"datum.p=='c'"}],"mark":{"type":"rule","strokeWidth":1.8},"encoding":{
"x":{"field":"re","type":"quantitative","scale":{"type":"log","domain":[300,30000],"nice":false},"axis":{"orient":"bottom","values":[400,500,600,700,800,900,1000,2000,3000,4000,5000,6000,7000,8000,9000,10000,20000],"labelExpr":"datum.value==1000?'10³':datum.value==10000?'10⁴':''","tickSize":{"condition":{"test":"datum.value==1000||datum.value==10000","value":-13},"value":-7},"labelPadding":21,"labelBaseline":"top","grid":true,"gridOpacity":{"condition":{"test":"datum.value==1000||datum.value==10000","value":1},"value":0},"domain":false,"title":null}},
"y":{"field":"lo","type":"quantitative","scale":{"domain":[0,0.8],"nice":false},"axis":{"orient":"left","values":[0,0.1,0.2,0.3,0.4,0.5,0.6,0.7,0.8],"labelExpr":"datum.value==0?'0':format(datum.value,'.1f')","tickSize":-12,"labelPadding":27,"grid":true,"domain":false,"title":"Qₘ","titleFontStyle":"italic","titleFontSize":36,"titleAngle":0,"titleX":-76,"titleY":142,"titleAlign":"right","titleBaseline":"middle"}},
"y2":{"field":"hi"},
"color":{"field":"c","type":"nominal","scale":{"domain":["C","G","O","R","P"],"range":["#00bfff","#00b000","#ffc800","#ff0000","#a030ff"]},"legend":null}}},
{"data":{"name":"pts"},"transform":[{"filter":"datum.p=='c'"}],"mark":{"type":"tick","orient":"horizontal","size":14,"thickness":1.8},"encoding":{
"x":{"field":"re","type":"quantitative","scale":{"type":"log","domain":[300,30000],"nice":false},"axis":{"orient":"top","values":[400,500,600,700,800,900,1000,2000,3000,4000,5000,6000,7000,8000,9000,10000,20000],"labels":false,"tickSize":{"condition":{"test":"datum.value==1000||datum.value==10000","value":-13},"value":-7},"grid":false,"domain":false,"title":"θ\u2004=\u20040°","titleFontSize":33,"titleX":-5,"titleY":-21,"titleAlign":"left","titleBaseline":"alphabetic","titleAngle":0}},
"y":{"field":"lo","type":"quantitative","scale":{"domain":[0,0.8],"nice":false},"axis":{"orient":"right","values":[0,0.1,0.2,0.3,0.4,0.5,0.6,0.7,0.8],"labels":false,"tickSize":-12,"grid":false,"domain":false,"title":"(c)","titleFontSize":36,"titleFontStyle":"italic","titleX":-676,"titleY":-25,"titleAlign":"left","titleBaseline":"alphabetic","titleAngle":0}},
"color":{"field":"c","type":"nominal","scale":{"domain":["C","G","O","R","P"],"range":["#00bfff","#00b000","#ffc800","#ff0000","#a030ff"]},"legend":null}}},
{"data":{"name":"pts"},"transform":[{"filter":"datum.p=='c'"}],"mark":{"type":"tick","orient":"horizontal","size":14,"thickness":1.8},"encoding":{
"x":{"field":"re","type":"quantitative","scale":{"type":"log","domain":[300,30000],"nice":false},"axis":null},
"y":{"field":"hi","type":"quantitative","scale":{"domain":[0,0.8],"nice":false},"axis":null},
"color":{"field":"c","type":"nominal","scale":{"domain":["C","G","O","R","P"],"range":["#00bfff","#00b000","#ffc800","#ff0000","#a030ff"]},"legend":null}}},
{"data":{"name":"pts"},"transform":[{"filter":"datum.p=='c' && datum.f==1"}],"mark":{"type":"point","filled":true,"opacity":1},"encoding":{
"x":{"field":"re","type":"quantitative","scale":{"type":"log","domain":[300,30000],"nice":false},"axis":null},
"y":{"field":"q","type":"quantitative","scale":{"domain":[0,0.8],"nice":false},"axis":null},
"color":{"field":"c","type":"nominal","scale":{"domain":["C","G","O","R","P"],"range":["#00bfff","#00b000","#ffc800","#ff0000","#a030ff"]},"legend":null},
"shape":{"field":"m","type":"nominal","scale":{"domain":["ci","tu","sq","st","td"],"range":["circle","triangle-up","square","M0,-1L0.2245,-0.309L0.951,-0.309L0.363,0.118L0.588,0.809L0,0.382L-0.588,0.809L-0.363,0.118L-0.951,-0.309L-0.2245,-0.309Z","triangle-down"]},"legend":null},
"size":{"field":"m","type":"ordinal","scale":{"domain":["ci","tu","sq","st","td"],"range":[170,280,150,1000,220]},"legend":null}}},
{"data":{"name":"pts"},"transform":[{"filter":"datum.p=='c' && datum.f==0"}],"mark":{"type":"point","filled":false,"fill":"white","strokeWidth":1.8,"opacity":1},"encoding":{
"x":{"field":"re","type":"quantitative","scale":{"type":"log","domain":[300,30000],"nice":false},"axis":null},
"y":{"field":"q","type":"quantitative","scale":{"domain":[0,0.8],"nice":false},"axis":null},
"color":{"field":"c","type":"nominal","scale":{"domain":["C","G","O","R","P"],"range":["#00bfff","#00b000","#ffc800","#ff0000","#a030ff"]},"legend":null},
"shape":{"field":"m","type":"nominal","scale":{"domain":["ci","tu","sq","st","td"],"range":["circle","triangle-up","square","M0,-1L0.2245,-0.309L0.951,-0.309L0.363,0.118L0.588,0.809L0,0.382L-0.588,0.809L-0.363,0.118L-0.951,-0.309L-0.2245,-0.309Z","triangle-down"]},"legend":null},
"size":{"field":"m","type":"ordinal","scale":{"domain":["ci","tu","sq","st","td"],"range":[150,240,80,850,210]},"legend":null}}}
]},
{"width":555,"height":277,"resolve":{"axis":{"x":"independent","y":"independent"},"scale":{"size":"independent"}},"layer":[
{"data":{"values":[{"q":0.5}]},"mark":{"type":"rule","color":"black","strokeWidth":2.2,"strokeDash":[18,10]},"encoding":{"y":{"field":"q","type":"quantitative","scale":{"domain":[0,0.8],"nice":false},"axis":null}}},
{"data":{"name":"pts"},"transform":[{"filter":"datum.p=='d'"}],"mark":{"type":"rule","strokeWidth":1.8},"encoding":{
"x":{"field":"re","type":"quantitative","scale":{"type":"log","domain":[300,30000],"nice":false},"axis":{"orient":"bottom","values":[400,500,600,700,800,900,1000,2000,3000,4000,5000,6000,7000,8000,9000,10000,20000],"labelExpr":"datum.value==1000?'10³':datum.value==10000?'10⁴':''","tickSize":{"condition":{"test":"datum.value==1000||datum.value==10000","value":-13},"value":-7},"labelPadding":21,"labelBaseline":"top","grid":true,"gridOpacity":{"condition":{"test":"datum.value==1000||datum.value==10000","value":1},"value":0},"domain":false,"title":null}},
"y":{"field":"lo","type":"quantitative","scale":{"domain":[0,0.8],"nice":false},"axis":{"orient":"left","values":[0,0.1,0.2,0.3,0.4,0.5,0.6,0.7,0.8],"labelExpr":"datum.value==0?'0':format(datum.value,'.1f')","tickSize":-12,"labelPadding":27,"grid":true,"domain":false,"title":null}},
"y2":{"field":"hi"},
"color":{"field":"c","type":"nominal","scale":{"domain":["C","G","O","R","P"],"range":["#00bfff","#00b000","#ffc800","#ff0000","#a030ff"]},"legend":null}}},
{"data":{"name":"pts"},"transform":[{"filter":"datum.p=='d'"}],"mark":{"type":"tick","orient":"horizontal","size":14,"thickness":1.8},"encoding":{
"x":{"field":"re","type":"quantitative","scale":{"type":"log","domain":[300,30000],"nice":false},"axis":{"orient":"top","values":[400,500,600,700,800,900,1000,2000,3000,4000,5000,6000,7000,8000,9000,10000,20000],"labels":false,"tickSize":{"condition":{"test":"datum.value==1000||datum.value==10000","value":-13},"value":-7},"grid":false,"domain":false,"title":"θ\u2004=\u20040.5°","titleFontSize":33,"titleX":19,"titleY":-21,"titleAlign":"left","titleBaseline":"alphabetic","titleAngle":0}},
"y":{"field":"lo","type":"quantitative","scale":{"domain":[0,0.8],"nice":false},"axis":{"orient":"right","values":[0,0.1,0.2,0.3,0.4,0.5,0.6,0.7,0.8],"labels":false,"tickSize":-12,"grid":false,"domain":false,"title":"(d)","titleFontSize":36,"titleFontStyle":"italic","titleX":-671,"titleY":-25,"titleAlign":"left","titleBaseline":"alphabetic","titleAngle":0}},
"color":{"field":"c","type":"nominal","scale":{"domain":["C","G","O","R","P"],"range":["#00bfff","#00b000","#ffc800","#ff0000","#a030ff"]},"legend":null}}},
{"data":{"name":"pts"},"transform":[{"filter":"datum.p=='d'"}],"mark":{"type":"tick","orient":"horizontal","size":14,"thickness":1.8},"encoding":{
"x":{"field":"re","type":"quantitative","scale":{"type":"log","domain":[300,30000],"nice":false},"axis":null},
"y":{"field":"hi","type":"quantitative","scale":{"domain":[0,0.8],"nice":false},"axis":null},
"color":{"field":"c","type":"nominal","scale":{"domain":["C","G","O","R","P"],"range":["#00bfff","#00b000","#ffc800","#ff0000","#a030ff"]},"legend":null}}},
{"data":{"name":"pts"},"transform":[{"filter":"datum.p=='d' && datum.f==1"}],"mark":{"type":"point","filled":true,"opacity":1},"encoding":{
"x":{"field":"re","type":"quantitative","scale":{"type":"log","domain":[300,30000],"nice":false},"axis":null},
"y":{"field":"q","type":"quantitative","scale":{"domain":[0,0.8],"nice":false},"axis":null},
"color":{"field":"c","type":"nominal","scale":{"domain":["C","G","O","R","P"],"range":["#00bfff","#00b000","#ffc800","#ff0000","#a030ff"]},"legend":null},
"shape":{"field":"m","type":"nominal","scale":{"domain":["ci","tu","sq","st","td"],"range":["circle","triangle-up","square","M0,-1L0.2245,-0.309L0.951,-0.309L0.363,0.118L0.588,0.809L0,0.382L-0.588,0.809L-0.363,0.118L-0.951,-0.309L-0.2245,-0.309Z","triangle-down"]},"legend":null},
"size":{"field":"m","type":"ordinal","scale":{"domain":["ci","tu","sq","st","td"],"range":[170,280,150,1000,220]},"legend":null}}},
{"data":{"name":"pts"},"transform":[{"filter":"datum.p=='d' && datum.f==0"}],"mark":{"type":"point","filled":false,"fill":"white","strokeWidth":1.8,"opacity":1},"encoding":{
"x":{"field":"re","type":"quantitative","scale":{"type":"log","domain":[300,30000],"nice":false},"axis":null},
"y":{"field":"q","type":"quantitative","scale":{"domain":[0,0.8],"nice":false},"axis":null},
"color":{"field":"c","type":"nominal","scale":{"domain":["C","G","O","R","P"],"range":["#00bfff","#00b000","#ffc800","#ff0000","#a030ff"]},"legend":null},
"shape":{"field":"m","type":"nominal","scale":{"domain":["ci","tu","sq","st","td"],"range":["circle","triangle-up","square","M0,-1L0.2245,-0.309L0.951,-0.309L0.363,0.118L0.588,0.809L0,0.382L-0.588,0.809L-0.363,0.118L-0.951,-0.309L-0.2245,-0.309Z","triangle-down"]},"legend":null},
"size":{"field":"m","type":"ordinal","scale":{"domain":["ci","tu","sq","st","td"],"range":[150,240,80,850,210]},"legend":null}}}
]}
]},
{"spacing":82,"hconcat":[
{"width":555,"height":277,"resolve":{"axis":{"x":"independent","y":"independent"},"scale":{"size":"independent"}},"layer":[
{"data":{"values":[{"q":0.5}]},"mark":{"type":"rule","color":"black","strokeWidth":2.2,"strokeDash":[18,10]},"encoding":{"y":{"field":"q","type":"quantitative","scale":{"domain":[0,0.8],"nice":false},"axis":null}}},
{"data":{"name":"pts"},"transform":[{"filter":"datum.p=='e'"}],"mark":{"type":"rule","strokeWidth":1.8},"encoding":{
"x":{"field":"re","type":"quantitative","scale":{"type":"log","domain":[300,30000],"nice":false},"axis":{"orient":"bottom","values":[400,500,600,700,800,900,1000,2000,3000,4000,5000,6000,7000,8000,9000,10000,20000],"labelExpr":"datum.value==1000?'10³':datum.value==10000?'10⁴':''","tickSize":{"condition":{"test":"datum.value==1000||datum.value==10000","value":-13},"value":-7},"labelPadding":21,"labelBaseline":"top","grid":true,"gridOpacity":{"condition":{"test":"datum.value==1000||datum.value==10000","value":1},"value":0},"domain":false,"title":null}},
"y":{"field":"lo","type":"quantitative","scale":{"domain":[0,0.8],"nice":false},"axis":{"orient":"left","values":[0,0.1,0.2,0.3,0.4,0.5,0.6,0.7,0.8],"labelExpr":"datum.value==0?'0':format(datum.value,'.1f')","tickSize":-12,"labelPadding":27,"grid":true,"domain":false,"title":"Qₘ","titleFontStyle":"italic","titleFontSize":36,"titleAngle":0,"titleX":-76,"titleY":142,"titleAlign":"right","titleBaseline":"middle"}},
"y2":{"field":"hi"},
"color":{"field":"c","type":"nominal","scale":{"domain":["C","G","O","R","P"],"range":["#00bfff","#00b000","#ffc800","#ff0000","#a030ff"]},"legend":null}}},
{"data":{"name":"pts"},"transform":[{"filter":"datum.p=='e'"}],"mark":{"type":"tick","orient":"horizontal","size":14,"thickness":1.8},"encoding":{
"x":{"field":"re","type":"quantitative","scale":{"type":"log","domain":[300,30000],"nice":false},"axis":{"orient":"top","values":[400,500,600,700,800,900,1000,2000,3000,4000,5000,6000,7000,8000,9000,10000,20000],"labels":false,"tickSize":{"condition":{"test":"datum.value==1000||datum.value==10000","value":-13},"value":-7},"grid":false,"domain":false,"title":"θ\u2004=\u20041°","titleFontSize":33,"titleX":-5,"titleY":-21,"titleAlign":"left","titleBaseline":"alphabetic","titleAngle":0}},
"y":{"field":"lo","type":"quantitative","scale":{"domain":[0,0.8],"nice":false},"axis":{"orient":"right","values":[0,0.1,0.2,0.3,0.4,0.5,0.6,0.7,0.8],"labels":false,"tickSize":-12,"grid":false,"domain":false,"title":"(e)","titleFontSize":36,"titleFontStyle":"italic","titleX":-676,"titleY":-25,"titleAlign":"left","titleBaseline":"alphabetic","titleAngle":0}},
"color":{"field":"c","type":"nominal","scale":{"domain":["C","G","O","R","P"],"range":["#00bfff","#00b000","#ffc800","#ff0000","#a030ff"]},"legend":null}}},
{"data":{"name":"pts"},"transform":[{"filter":"datum.p=='e'"}],"mark":{"type":"tick","orient":"horizontal","size":14,"thickness":1.8},"encoding":{
"x":{"field":"re","type":"quantitative","scale":{"type":"log","domain":[300,30000],"nice":false},"axis":null},
"y":{"field":"hi","type":"quantitative","scale":{"domain":[0,0.8],"nice":false},"axis":null},
"color":{"field":"c","type":"nominal","scale":{"domain":["C","G","O","R","P"],"range":["#00bfff","#00b000","#ffc800","#ff0000","#a030ff"]},"legend":null}}},
{"data":{"name":"pts"},"transform":[{"filter":"datum.p=='e' && datum.f==1"}],"mark":{"type":"point","filled":true,"opacity":1},"encoding":{
"x":{"field":"re","type":"quantitative","scale":{"type":"log","domain":[300,30000],"nice":false},"axis":null},
"y":{"field":"q","type":"quantitative","scale":{"domain":[0,0.8],"nice":false},"axis":null},
"color":{"field":"c","type":"nominal","scale":{"domain":["C","G","O","R","P"],"range":["#00bfff","#00b000","#ffc800","#ff0000","#a030ff"]},"legend":null},
"shape":{"field":"m","type":"nominal","scale":{"domain":["ci","tu","sq","st","td"],"range":["circle","triangle-up","square","M0,-1L0.2245,-0.309L0.951,-0.309L0.363,0.118L0.588,0.809L0,0.382L-0.588,0.809L-0.363,0.118L-0.951,-0.309L-0.2245,-0.309Z","triangle-down"]},"legend":null},
"size":{"field":"m","type":"ordinal","scale":{"domain":["ci","tu","sq","st","td"],"range":[170,280,150,1000,220]},"legend":null}}},
{"data":{"name":"pts"},"transform":[{"filter":"datum.p=='e' && datum.f==0"}],"mark":{"type":"point","filled":false,"fill":"white","strokeWidth":1.8,"opacity":1},"encoding":{
"x":{"field":"re","type":"quantitative","scale":{"type":"log","domain":[300,30000],"nice":false},"axis":null},
"y":{"field":"q","type":"quantitative","scale":{"domain":[0,0.8],"nice":false},"axis":null},
"color":{"field":"c","type":"nominal","scale":{"domain":["C","G","O","R","P"],"range":["#00bfff","#00b000","#ffc800","#ff0000","#a030ff"]},"legend":null},
"shape":{"field":"m","type":"nominal","scale":{"domain":["ci","tu","sq","st","td"],"range":["circle","triangle-up","square","M0,-1L0.2245,-0.309L0.951,-0.309L0.363,0.118L0.588,0.809L0,0.382L-0.588,0.809L-0.363,0.118L-0.951,-0.309L-0.2245,-0.309Z","triangle-down"]},"legend":null},
"size":{"field":"m","type":"ordinal","scale":{"domain":["ci","tu","sq","st","td"],"range":[150,240,80,850,210]},"legend":null}}}
]},
{"width":555,"height":277,"resolve":{"axis":{"x":"independent","y":"independent"},"scale":{"size":"independent"}},"layer":[
{"data":{"values":[{"q":0.5}]},"mark":{"type":"rule","color":"black","strokeWidth":2.2,"strokeDash":[18,10]},"encoding":{"y":{"field":"q","type":"quantitative","scale":{"domain":[0,0.8],"nice":false},"axis":null}}},
{"data":{"name":"pts"},"transform":[{"filter":"datum.p=='f'"}],"mark":{"type":"rule","strokeWidth":1.8},"encoding":{
"x":{"field":"re","type":"quantitative","scale":{"type":"log","domain":[300,30000],"nice":false},"axis":{"orient":"bottom","values":[400,500,600,700,800,900,1000,2000,3000,4000,5000,6000,7000,8000,9000,10000,20000],"labelExpr":"datum.value==1000?'10³':datum.value==10000?'10⁴':''","tickSize":{"condition":{"test":"datum.value==1000||datum.value==10000","value":-13},"value":-7},"labelPadding":21,"labelBaseline":"top","grid":true,"gridOpacity":{"condition":{"test":"datum.value==1000||datum.value==10000","value":1},"value":0},"domain":false,"title":null}},
"y":{"field":"lo","type":"quantitative","scale":{"domain":[0,0.8],"nice":false},"axis":{"orient":"left","values":[0,0.1,0.2,0.3,0.4,0.5,0.6,0.7,0.8],"labelExpr":"datum.value==0?'0':format(datum.value,'.1f')","tickSize":-12,"labelPadding":27,"grid":true,"domain":false,"title":null}},
"y2":{"field":"hi"},
"color":{"field":"c","type":"nominal","scale":{"domain":["C","G","O","R","P"],"range":["#00bfff","#00b000","#ffc800","#ff0000","#a030ff"]},"legend":null}}},
{"data":{"name":"pts"},"transform":[{"filter":"datum.p=='f'"}],"mark":{"type":"tick","orient":"horizontal","size":14,"thickness":1.8},"encoding":{
"x":{"field":"re","type":"quantitative","scale":{"type":"log","domain":[300,30000],"nice":false},"axis":{"orient":"top","values":[400,500,600,700,800,900,1000,2000,3000,4000,5000,6000,7000,8000,9000,10000,20000],"labels":false,"tickSize":{"condition":{"test":"datum.value==1000||datum.value==10000","value":-13},"value":-7},"grid":false,"domain":false,"title":"θ\u2004=\u20041.5°","titleFontSize":33,"titleX":19,"titleY":-21,"titleAlign":"left","titleBaseline":"alphabetic","titleAngle":0}},
"y":{"field":"lo","type":"quantitative","scale":{"domain":[0,0.8],"nice":false},"axis":{"orient":"right","values":[0,0.1,0.2,0.3,0.4,0.5,0.6,0.7,0.8],"labels":false,"tickSize":-12,"grid":false,"domain":false,"title":"(f)","titleFontSize":36,"titleFontStyle":"italic","titleX":-671,"titleY":-25,"titleAlign":"left","titleBaseline":"alphabetic","titleAngle":0}},
"color":{"field":"c","type":"nominal","scale":{"domain":["C","G","O","R","P"],"range":["#00bfff","#00b000","#ffc800","#ff0000","#a030ff"]},"legend":null}}},
{"data":{"name":"pts"},"transform":[{"filter":"datum.p=='f'"}],"mark":{"type":"tick","orient":"horizontal","size":14,"thickness":1.8},"encoding":{
"x":{"field":"re","type":"quantitative","scale":{"type":"log","domain":[300,30000],"nice":false},"axis":null},
"y":{"field":"hi","type":"quantitative","scale":{"domain":[0,0.8],"nice":false},"axis":null},
"color":{"field":"c","type":"nominal","scale":{"domain":["C","G","O","R","P"],"range":["#00bfff","#00b000","#ffc800","#ff0000","#a030ff"]},"legend":null}}},
{"data":{"name":"pts"},"transform":[{"filter":"datum.p=='f' && datum.f==1"}],"mark":{"type":"point","filled":true,"opacity":1},"encoding":{
"x":{"field":"re","type":"quantitative","scale":{"type":"log","domain":[300,30000],"nice":false},"axis":null},
"y":{"field":"q","type":"quantitative","scale":{"domain":[0,0.8],"nice":false},"axis":null},
"color":{"field":"c","type":"nominal","scale":{"domain":["C","G","O","R","P"],"range":["#00bfff","#00b000","#ffc800","#ff0000","#a030ff"]},"legend":null},
"shape":{"field":"m","type":"nominal","scale":{"domain":["ci","tu","sq","st","td"],"range":["circle","triangle-up","square","M0,-1L0.2245,-0.309L0.951,-0.309L0.363,0.118L0.588,0.809L0,0.382L-0.588,0.809L-0.363,0.118L-0.951,-0.309L-0.2245,-0.309Z","triangle-down"]},"legend":null},
"size":{"field":"m","type":"ordinal","scale":{"domain":["ci","tu","sq","st","td"],"range":[170,280,150,1000,220]},"legend":null}}},
{"data":{"name":"pts"},"transform":[{"filter":"datum.p=='f' && datum.f==0"}],"mark":{"type":"point","filled":false,"fill":"white","strokeWidth":1.8,"opacity":1},"encoding":{
"x":{"field":"re","type":"quantitative","scale":{"type":"log","domain":[300,30000],"nice":false},"axis":null},
"y":{"field":"q","type":"quantitative","scale":{"domain":[0,0.8],"nice":false},"axis":null},
"color":{"field":"c","type":"nominal","scale":{"domain":["C","G","O","R","P"],"range":["#00bfff","#00b000","#ffc800","#ff0000","#a030ff"]},"legend":null},
"shape":{"field":"m","type":"nominal","scale":{"domain":["ci","tu","sq","st","td"],"range":["circle","triangle-up","square","M0,-1L0.2245,-0.309L0.951,-0.309L0.363,0.118L0.588,0.809L0,0.382L-0.588,0.809L-0.363,0.118L-0.951,-0.309L-0.2245,-0.309Z","triangle-down"]},"legend":null},
"size":{"field":"m","type":"ordinal","scale":{"domain":["ci","tu","sq","st","td"],"range":[150,240,80,850,210]},"legend":null}}}
]}
]},
{"spacing":82,"hconcat":[
{"width":555,"height":277,"resolve":{"axis":{"x":"independent","y":"independent"},"scale":{"size":"independent"}},"layer":[
{"data":{"values":[{"q":0.5}]},"mark":{"type":"rule","color":"black","strokeWidth":2.2,"strokeDash":[18,10]},"encoding":{"y":{"field":"q","type":"quantitative","scale":{"domain":[0,0.8],"nice":false},"axis":null}}},
{"data":{"name":"pts"},"transform":[{"filter":"datum.p=='g'"}],"mark":{"type":"rule","strokeWidth":1.8},"encoding":{
"x":{"field":"re","type":"quantitative","scale":{"type":"log","domain":[300,30000],"nice":false},"axis":{"orient":"bottom","values":[400,500,600,700,800,900,1000,2000,3000,4000,5000,6000,7000,8000,9000,10000,20000],"labelExpr":"datum.value==1000?'10³':datum.value==10000?'10⁴':''","tickSize":{"condition":{"test":"datum.value==1000||datum.value==10000","value":-13},"value":-7},"labelPadding":21,"labelBaseline":"top","grid":true,"gridOpacity":{"condition":{"test":"datum.value==1000||datum.value==10000","value":1},"value":0},"domain":false,"title":null}},
"y":{"field":"lo","type":"quantitative","scale":{"domain":[0,0.8],"nice":false},"axis":{"orient":"left","values":[0,0.1,0.2,0.3,0.4,0.5,0.6,0.7,0.8],"labelExpr":"datum.value==0?'0':format(datum.value,'.1f')","tickSize":-12,"labelPadding":27,"grid":true,"domain":false,"title":"Qₘ","titleFontStyle":"italic","titleFontSize":36,"titleAngle":0,"titleX":-76,"titleY":142,"titleAlign":"right","titleBaseline":"middle"}},
"y2":{"field":"hi"},
"color":{"field":"c","type":"nominal","scale":{"domain":["C","G","O","R","P"],"range":["#00bfff","#00b000","#ffc800","#ff0000","#a030ff"]},"legend":null}}},
{"data":{"name":"pts"},"transform":[{"filter":"datum.p=='g'"}],"mark":{"type":"tick","orient":"horizontal","size":14,"thickness":1.8},"encoding":{
"x":{"field":"re","type":"quantitative","scale":{"type":"log","domain":[300,30000],"nice":false},"axis":{"orient":"top","values":[400,500,600,700,800,900,1000,2000,3000,4000,5000,6000,7000,8000,9000,10000,20000],"labels":false,"tickSize":{"condition":{"test":"datum.value==1000||datum.value==10000","value":-13},"value":-7},"grid":false,"domain":false,"title":"θ\u2004=\u20042°","titleFontSize":33,"titleX":-5,"titleY":-21,"titleAlign":"left","titleBaseline":"alphabetic","titleAngle":0}},
"y":{"field":"lo","type":"quantitative","scale":{"domain":[0,0.8],"nice":false},"axis":{"orient":"right","values":[0,0.1,0.2,0.3,0.4,0.5,0.6,0.7,0.8],"labels":false,"tickSize":-12,"grid":false,"domain":false,"title":"(g)","titleFontSize":36,"titleFontStyle":"italic","titleX":-676,"titleY":-25,"titleAlign":"left","titleBaseline":"alphabetic","titleAngle":0}},
"color":{"field":"c","type":"nominal","scale":{"domain":["C","G","O","R","P"],"range":["#00bfff","#00b000","#ffc800","#ff0000","#a030ff"]},"legend":null}}},
{"data":{"name":"pts"},"transform":[{"filter":"datum.p=='g'"}],"mark":{"type":"tick","orient":"horizontal","size":14,"thickness":1.8},"encoding":{
"x":{"field":"re","type":"quantitative","scale":{"type":"log","domain":[300,30000],"nice":false},"axis":null},
"y":{"field":"hi","type":"quantitative","scale":{"domain":[0,0.8],"nice":false},"axis":null},
"color":{"field":"c","type":"nominal","scale":{"domain":["C","G","O","R","P"],"range":["#00bfff","#00b000","#ffc800","#ff0000","#a030ff"]},"legend":null}}},
{"data":{"name":"pts"},"transform":[{"filter":"datum.p=='g' && datum.f==1"}],"mark":{"type":"point","filled":true,"opacity":1},"encoding":{
"x":{"field":"re","type":"quantitative","scale":{"type":"log","domain":[300,30000],"nice":false},"axis":null},
"y":{"field":"q","type":"quantitative","scale":{"domain":[0,0.8],"nice":false},"axis":null},
"color":{"field":"c","type":"nominal","scale":{"domain":["C","G","O","R","P"],"range":["#00bfff","#00b000","#ffc800","#ff0000","#a030ff"]},"legend":null},
"shape":{"field":"m","type":"nominal","scale":{"domain":["ci","tu","sq","st","td"],"range":["circle","triangle-up","square","M0,-1L0.2245,-0.309L0.951,-0.309L0.363,0.118L0.588,0.809L0,0.382L-0.588,0.809L-0.363,0.118L-0.951,-0.309L-0.2245,-0.309Z","triangle-down"]},"legend":null},
"size":{"field":"m","type":"ordinal","scale":{"domain":["ci","tu","sq","st","td"],"range":[170,280,150,1000,220]},"legend":null}}},
{"data":{"name":"pts"},"transform":[{"filter":"datum.p=='g' && datum.f==0"}],"mark":{"type":"point","filled":false,"fill":"white","strokeWidth":1.8,"opacity":1},"encoding":{
"x":{"field":"re","type":"quantitative","scale":{"type":"log","domain":[300,30000],"nice":false},"axis":null},
"y":{"field":"q","type":"quantitative","scale":{"domain":[0,0.8],"nice":false},"axis":null},
"color":{"field":"c","type":"nominal","scale":{"domain":["C","G","O","R","P"],"range":["#00bfff","#00b000","#ffc800","#ff0000","#a030ff"]},"legend":null},
"shape":{"field":"m","type":"nominal","scale":{"domain":["ci","tu","sq","st","td"],"range":["circle","triangle-up","square","M0,-1L0.2245,-0.309L0.951,-0.309L0.363,0.118L0.588,0.809L0,0.382L-0.588,0.809L-0.363,0.118L-0.951,-0.309L-0.2245,-0.309Z","triangle-down"]},"legend":null},
"size":{"field":"m","type":"ordinal","scale":{"domain":["ci","tu","sq","st","td"],"range":[150,240,80,850,210]},"legend":null}}}
]},
{"width":555,"height":277,"resolve":{"axis":{"x":"independent","y":"independent"},"scale":{"size":"independent"}},"layer":[
{"data":{"values":[{"q":0.5}]},"mark":{"type":"rule","color":"black","strokeWidth":2.2,"strokeDash":[18,10]},"encoding":{"y":{"field":"q","type":"quantitative","scale":{"domain":[0,0.8],"nice":false},"axis":null}}},
{"data":{"name":"pts"},"transform":[{"filter":"datum.p=='h'"}],"mark":{"type":"rule","strokeWidth":1.8},"encoding":{
"x":{"field":"re","type":"quantitative","scale":{"type":"log","domain":[300,30000],"nice":false},"axis":{"orient":"bottom","values":[400,500,600,700,800,900,1000,2000,3000,4000,5000,6000,7000,8000,9000,10000,20000],"labelExpr":"datum.value==1000?'10³':datum.value==10000?'10⁴':''","tickSize":{"condition":{"test":"datum.value==1000||datum.value==10000","value":-13},"value":-7},"labelPadding":21,"labelBaseline":"top","grid":true,"gridOpacity":{"condition":{"test":"datum.value==1000||datum.value==10000","value":1},"value":0},"domain":false,"title":null}},
"y":{"field":"lo","type":"quantitative","scale":{"domain":[0,0.8],"nice":false},"axis":{"orient":"left","values":[0,0.1,0.2,0.3,0.4,0.5,0.6,0.7,0.8],"labelExpr":"datum.value==0?'0':format(datum.value,'.1f')","tickSize":-12,"labelPadding":27,"grid":true,"domain":false,"title":null}},
"y2":{"field":"hi"},
"color":{"field":"c","type":"nominal","scale":{"domain":["C","G","O","R","P"],"range":["#00bfff","#00b000","#ffc800","#ff0000","#a030ff"]},"legend":null}}},
{"data":{"name":"pts"},"transform":[{"filter":"datum.p=='h'"}],"mark":{"type":"tick","orient":"horizontal","size":14,"thickness":1.8},"encoding":{
"x":{"field":"re","type":"quantitative","scale":{"type":"log","domain":[300,30000],"nice":false},"axis":{"orient":"top","values":[400,500,600,700,800,900,1000,2000,3000,4000,5000,6000,7000,8000,9000,10000,20000],"labels":false,"tickSize":{"condition":{"test":"datum.value==1000||datum.value==10000","value":-13},"value":-7},"grid":false,"domain":false,"title":"θ\u2004=\u20042.5°","titleFontSize":33,"titleX":19,"titleY":-21,"titleAlign":"left","titleBaseline":"alphabetic","titleAngle":0}},
"y":{"field":"lo","type":"quantitative","scale":{"domain":[0,0.8],"nice":false},"axis":{"orient":"right","values":[0,0.1,0.2,0.3,0.4,0.5,0.6,0.7,0.8],"labels":false,"tickSize":-12,"grid":false,"domain":false,"title":"(h)","titleFontSize":36,"titleFontStyle":"italic","titleX":-671,"titleY":-25,"titleAlign":"left","titleBaseline":"alphabetic","titleAngle":0}},
"color":{"field":"c","type":"nominal","scale":{"domain":["C","G","O","R","P"],"range":["#00bfff","#00b000","#ffc800","#ff0000","#a030ff"]},"legend":null}}},
{"data":{"name":"pts"},"transform":[{"filter":"datum.p=='h'"}],"mark":{"type":"tick","orient":"horizontal","size":14,"thickness":1.8},"encoding":{
"x":{"field":"re","type":"quantitative","scale":{"type":"log","domain":[300,30000],"nice":false},"axis":null},
"y":{"field":"hi","type":"quantitative","scale":{"domain":[0,0.8],"nice":false},"axis":null},
"color":{"field":"c","type":"nominal","scale":{"domain":["C","G","O","R","P"],"range":["#00bfff","#00b000","#ffc800","#ff0000","#a030ff"]},"legend":null}}},
{"data":{"name":"pts"},"transform":[{"filter":"datum.p=='h' && datum.f==1"}],"mark":{"type":"point","filled":true,"opacity":1},"encoding":{
"x":{"field":"re","type":"quantitative","scale":{"type":"log","domain":[300,30000],"nice":false},"axis":null},
"y":{"field":"q","type":"quantitative","scale":{"domain":[0,0.8],"nice":false},"axis":null},
"color":{"field":"c","type":"nominal","scale":{"domain":["C","G","O","R","P"],"range":["#00bfff","#00b000","#ffc800","#ff0000","#a030ff"]},"legend":null},
"shape":{"field":"m","type":"nominal","scale":{"domain":["ci","tu","sq","st","td"],"range":["circle","triangle-up","square","M0,-1L0.2245,-0.309L0.951,-0.309L0.363,0.118L0.588,0.809L0,0.382L-0.588,0.809L-0.363,0.118L-0.951,-0.309L-0.2245,-0.309Z","triangle-down"]},"legend":null},
"size":{"field":"m","type":"ordinal","scale":{"domain":["ci","tu","sq","st","td"],"range":[170,280,150,1000,220]},"legend":null}}},
{"data":{"name":"pts"},"transform":[{"filter":"datum.p=='h' && datum.f==0"}],"mark":{"type":"point","filled":false,"fill":"white","strokeWidth":1.8,"opacity":1},"encoding":{
"x":{"field":"re","type":"quantitative","scale":{"type":"log","domain":[300,30000],"nice":false},"axis":null},
"y":{"field":"q","type":"quantitative","scale":{"domain":[0,0.8],"nice":false},"axis":null},
"color":{"field":"c","type":"nominal","scale":{"domain":["C","G","O","R","P"],"range":["#00bfff","#00b000","#ffc800","#ff0000","#a030ff"]},"legend":null},
"shape":{"field":"m","type":"nominal","scale":{"domain":["ci","tu","sq","st","td"],"range":["circle","triangle-up","square","M0,-1L0.2245,-0.309L0.951,-0.309L0.363,0.118L0.588,0.809L0,0.382L-0.588,0.809L-0.363,0.118L-0.951,-0.309L-0.2245,-0.309Z","triangle-down"]},"legend":null},
"size":{"field":"m","type":"ordinal","scale":{"domain":["ci","tu","sq","st","td"],"range":[150,240,80,850,210]},"legend":null}}}
]}
]}
]},
{"spacing":82,"hconcat":[
{"width":555,"height":277,"resolve":{"axis":{"x":"independent","y":"independent"},"scale":{"size":"independent"}},"layer":[
{"data":{"values":[{"q":0.5}]},"mark":{"type":"rule","color":"black","strokeWidth":2.2,"strokeDash":[18,10]},"encoding":{"y":{"field":"q","type":"quantitative","scale":{"domain":[0,0.8],"nice":false},"axis":null}}},
{"data":{"name":"pts"},"transform":[{"filter":"datum.p=='i'"}],"mark":{"type":"rule","strokeWidth":1.8},"encoding":{
"x":{"field":"re","type":"quantitative","scale":{"type":"log","domain":[300,30000],"nice":false},"axis":{"orient":"bottom","values":[400,500,600,700,800,900,1000,2000,3000,4000,5000,6000,7000,8000,9000,10000,20000],"labelExpr":"datum.value==1000?'10³':datum.value==10000?'10⁴':''","tickSize":{"condition":{"test":"datum.value==1000||datum.value==10000","value":-13},"value":-7},"labelPadding":21,"labelBaseline":"top","grid":true,"gridOpacity":{"condition":{"test":"datum.value==1000||datum.value==10000","value":1},"value":0},"domain":false,"title":"Re","titleFontStyle":"italic","titleFontSize":38,"titleX":277,"titleY":81,"titleAlign":"center","titleBaseline":"alphabetic","titleAngle":0}},
"y":{"field":"lo","type":"quantitative","scale":{"domain":[0,0.8],"nice":false},"axis":{"orient":"left","values":[0,0.1,0.2,0.3,0.4,0.5,0.6,0.7,0.8],"labelExpr":"datum.value==0?'0':format(datum.value,'.1f')","tickSize":-12,"labelPadding":27,"grid":true,"domain":false,"title":"Qₘ","titleFontStyle":"italic","titleFontSize":36,"titleAngle":0,"titleX":-76,"titleY":142,"titleAlign":"right","titleBaseline":"middle"}},
"y2":{"field":"hi"},
"color":{"field":"c","type":"nominal","scale":{"domain":["C","G","O","R","P"],"range":["#00bfff","#00b000","#ffc800","#ff0000","#a030ff"]},"legend":null}}},
{"data":{"name":"pts"},"transform":[{"filter":"datum.p=='i'"}],"mark":{"type":"tick","orient":"horizontal","size":14,"thickness":1.8},"encoding":{
"x":{"field":"re","type":"quantitative","scale":{"type":"log","domain":[300,30000],"nice":false},"axis":{"orient":"top","values":[400,500,600,700,800,900,1000,2000,3000,4000,5000,6000,7000,8000,9000,10000,20000],"labels":false,"tickSize":{"condition":{"test":"datum.value==1000||datum.value==10000","value":-13},"value":-7},"grid":false,"domain":false,"title":"θ\u2004=\u20043°","titleFontSize":33,"titleX":-5,"titleY":-21,"titleAlign":"left","titleBaseline":"alphabetic","titleAngle":0}},
"y":{"field":"lo","type":"quantitative","scale":{"domain":[0,0.8],"nice":false},"axis":{"orient":"right","values":[0,0.1,0.2,0.3,0.4,0.5,0.6,0.7,0.8],"labels":false,"tickSize":-12,"grid":false,"domain":false,"title":"(i)","titleFontSize":36,"titleFontStyle":"italic","titleX":-676,"titleY":-25,"titleAlign":"left","titleBaseline":"alphabetic","titleAngle":0}},
"color":{"field":"c","type":"nominal","scale":{"domain":["C","G","O","R","P"],"range":["#00bfff","#00b000","#ffc800","#ff0000","#a030ff"]},"legend":null}}},
{"data":{"name":"pts"},"transform":[{"filter":"datum.p=='i'"}],"mark":{"type":"tick","orient":"horizontal","size":14,"thickness":1.8},"encoding":{
"x":{"field":"re","type":"quantitative","scale":{"type":"log","domain":[300,30000],"nice":false},"axis":null},
"y":{"field":"hi","type":"quantitative","scale":{"domain":[0,0.8],"nice":false},"axis":null},
"color":{"field":"c","type":"nominal","scale":{"domain":["C","G","O","R","P"],"range":["#00bfff","#00b000","#ffc800","#ff0000","#a030ff"]},"legend":null}}},
{"data":{"name":"pts"},"transform":[{"filter":"datum.p=='i' && datum.f==1"}],"mark":{"type":"point","filled":true,"opacity":1},"encoding":{
"x":{"field":"re","type":"quantitative","scale":{"type":"log","domain":[300,30000],"nice":false},"axis":null},
"y":{"field":"q","type":"quantitative","scale":{"domain":[0,0.8],"nice":false},"axis":null},
"color":{"field":"c","type":"nominal","scale":{"domain":["C","G","O","R","P"],"range":["#00bfff","#00b000","#ffc800","#ff0000","#a030ff"]},"legend":null},
"shape":{"field":"m","type":"nominal","scale":{"domain":["ci","tu","sq","st","td"],"range":["circle","triangle-up","square","M0,-1L0.2245,-0.309L0.951,-0.309L0.363,0.118L0.588,0.809L0,0.382L-0.588,0.809L-0.363,0.118L-0.951,-0.309L-0.2245,-0.309Z","triangle-down"]},"legend":null},
"size":{"field":"m","type":"ordinal","scale":{"domain":["ci","tu","sq","st","td"],"range":[170,280,150,1000,220]},"legend":null}}},
{"data":{"name":"pts"},"transform":[{"filter":"datum.p=='i' && datum.f==0"}],"mark":{"type":"point","filled":false,"fill":"white","strokeWidth":1.8,"opacity":1},"encoding":{
"x":{"field":"re","type":"quantitative","scale":{"type":"log","domain":[300,30000],"nice":false},"axis":null},
"y":{"field":"q","type":"quantitative","scale":{"domain":[0,0.8],"nice":false},"axis":null},
"color":{"field":"c","type":"nominal","scale":{"domain":["C","G","O","R","P"],"range":["#00bfff","#00b000","#ffc800","#ff0000","#a030ff"]},"legend":null},
"shape":{"field":"m","type":"nominal","scale":{"domain":["ci","tu","sq","st","td"],"range":["circle","triangle-up","square","M0,-1L0.2245,-0.309L0.951,-0.309L0.363,0.118L0.588,0.809L0,0.382L-0.588,0.809L-0.363,0.118L-0.951,-0.309L-0.2245,-0.309Z","triangle-down"]},"legend":null},
"size":{"field":"m","type":"ordinal","scale":{"domain":["ci","tu","sq","st","td"],"range":[150,240,80,850,210]},"legend":null}}}
]},
{"width":555,"height":277,"resolve":{"axis":{"x":"independent","y":"independent"},"scale":{"size":"independent"}},"layer":[
{"data":{"values":[{"q":0.5}]},"mark":{"type":"rule","color":"black","strokeWidth":2.2,"strokeDash":[18,10]},"encoding":{"y":{"field":"q","type":"quantitative","scale":{"domain":[0,0.8],"nice":false},"axis":null}}},
{"data":{"name":"pts"},"transform":[{"filter":"datum.p=='j'"}],"mark":{"type":"rule","strokeWidth":1.8},"encoding":{
"x":{"field":"re","type":"quantitative","scale":{"type":"log","domain":[300,30000],"nice":false},"axis":{"orient":"bottom","values":[400,500,600,700,800,900,1000,2000,3000,4000,5000,6000,7000,8000,9000,10000,20000],"labelExpr":"datum.value==1000?'10³':datum.value==10000?'10⁴':''","tickSize":{"condition":{"test":"datum.value==1000||datum.value==10000","value":-13},"value":-7},"labelPadding":21,"labelBaseline":"top","grid":true,"gridOpacity":{"condition":{"test":"datum.value==1000||datum.value==10000","value":1},"value":0},"domain":false,"title":"Re","titleFontStyle":"italic","titleFontSize":38,"titleX":277,"titleY":81,"titleAlign":"center","titleBaseline":"alphabetic","titleAngle":0}},
"y":{"field":"lo","type":"quantitative","scale":{"domain":[0,0.8],"nice":false},"axis":{"orient":"left","values":[0,0.1,0.2,0.3,0.4,0.5,0.6,0.7,0.8],"labelExpr":"datum.value==0?'0':format(datum.value,'.1f')","tickSize":-12,"labelPadding":27,"grid":true,"domain":false,"title":null}},
"y2":{"field":"hi"},
"color":{"field":"c","type":"nominal","scale":{"domain":["C","G","O","R","P"],"range":["#00bfff","#00b000","#ffc800","#ff0000","#a030ff"]},"legend":null}}},
{"data":{"name":"pts"},"transform":[{"filter":"datum.p=='j'"}],"mark":{"type":"tick","orient":"horizontal","size":14,"thickness":1.8},"encoding":{
"x":{"field":"re","type":"quantitative","scale":{"type":"log","domain":[300,30000],"nice":false},"axis":{"orient":"top","values":[400,500,600,700,800,900,1000,2000,3000,4000,5000,6000,7000,8000,9000,10000,20000],"labels":false,"tickSize":{"condition":{"test":"datum.value==1000||datum.value==10000","value":-13},"value":-7},"grid":false,"domain":false,"title":"θ\u2004=\u20043.5°","titleFontSize":33,"titleX":19,"titleY":-21,"titleAlign":"left","titleBaseline":"alphabetic","titleAngle":0}},
"y":{"field":"lo","type":"quantitative","scale":{"domain":[0,0.8],"nice":false},"axis":{"orient":"right","values":[0,0.1,0.2,0.3,0.4,0.5,0.6,0.7,0.8],"labels":false,"tickSize":-12,"grid":false,"domain":false,"title":"(j)","titleFontSize":36,"titleFontStyle":"italic","titleX":-671,"titleY":-25,"titleAlign":"left","titleBaseline":"alphabetic","titleAngle":0}},
"color":{"field":"c","type":"nominal","scale":{"domain":["C","G","O","R","P"],"range":["#00bfff","#00b000","#ffc800","#ff0000","#a030ff"]},"legend":null}}},
{"data":{"name":"pts"},"transform":[{"filter":"datum.p=='j'"}],"mark":{"type":"tick","orient":"horizontal","size":14,"thickness":1.8},"encoding":{
"x":{"field":"re","type":"quantitative","scale":{"type":"log","domain":[300,30000],"nice":false},"axis":null},
"y":{"field":"hi","type":"quantitative","scale":{"domain":[0,0.8],"nice":false},"axis":null},
"color":{"field":"c","type":"nominal","scale":{"domain":["C","G","O","R","P"],"range":["#00bfff","#00b000","#ffc800","#ff0000","#a030ff"]},"legend":null}}},
{"data":{"name":"pts"},"transform":[{"filter":"datum.p=='j' && datum.f==1"}],"mark":{"type":"point","filled":true,"opacity":1},"encoding":{
"x":{"field":"re","type":"quantitative","scale":{"type":"log","domain":[300,30000],"nice":false},"axis":null},
"y":{"field":"q","type":"quantitative","scale":{"domain":[0,0.8],"nice":false},"axis":null},
"color":{"field":"c","type":"nominal","scale":{"domain":["C","G","O","R","P"],"range":["#00bfff","#00b000","#ffc800","#ff0000","#a030ff"]},"legend":null},
"shape":{"field":"m","type":"nominal","scale":{"domain":["ci","tu","sq","st","td"],"range":["circle","triangle-up","square","M0,-1L0.2245,-0.309L0.951,-0.309L0.363,0.118L0.588,0.809L0,0.382L-0.588,0.809L-0.363,0.118L-0.951,-0.309L-0.2245,-0.309Z","triangle-down"]},"legend":null},
"size":{"field":"m","type":"ordinal","scale":{"domain":["ci","tu","sq","st","td"],"range":[170,280,150,1000,220]},"legend":null}}},
{"data":{"name":"pts"},"transform":[{"filter":"datum.p=='j' && datum.f==0"}],"mark":{"type":"point","filled":false,"fill":"white","strokeWidth":1.8,"opacity":1},"encoding":{
"x":{"field":"re","type":"quantitative","scale":{"type":"log","domain":[300,30000],"nice":false},"axis":null},
"y":{"field":"q","type":"quantitative","scale":{"domain":[0,0.8],"nice":false},"axis":null},
"color":{"field":"c","type":"nominal","scale":{"domain":["C","G","O","R","P"],"range":["#00bfff","#00b000","#ffc800","#ff0000","#a030ff"]},"legend":null},
"shape":{"field":"m","type":"nominal","scale":{"domain":["ci","tu","sq","st","td"],"range":["circle","triangle-up","square","M0,-1L0.2245,-0.309L0.951,-0.309L0.363,0.118L0.588,0.809L0,0.382L-0.588,0.809L-0.363,0.118L-0.951,-0.309L-0.2245,-0.309Z","triangle-down"]},"legend":null},
"size":{"field":"m","type":"ordinal","scale":{"domain":["ci","tu","sq","st","td"],"range":[150,240,80,850,210]},"legend":null}}}
]}
]}
]
}
